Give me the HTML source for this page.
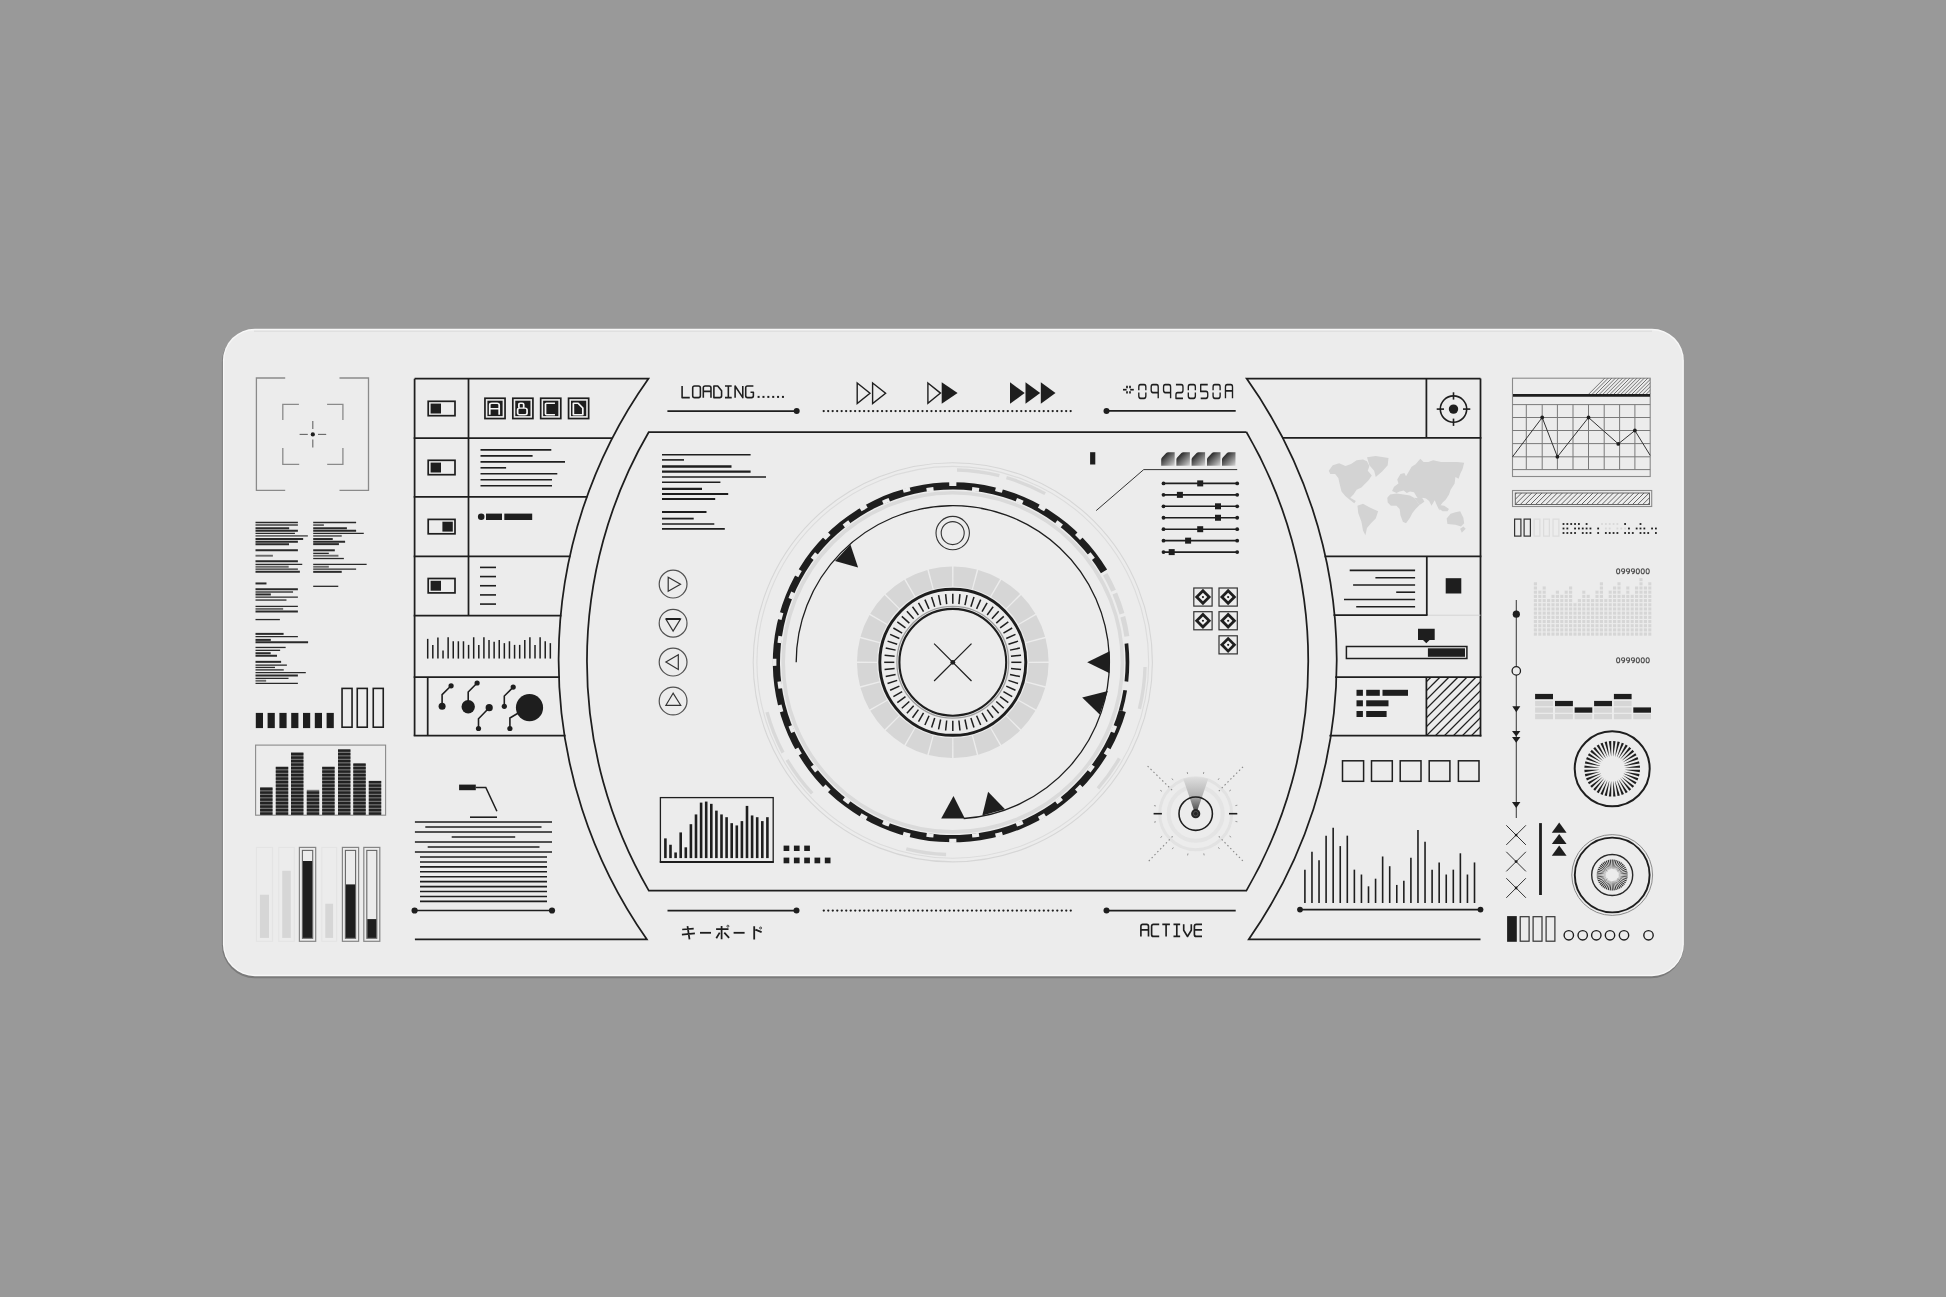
<!DOCTYPE html>
<html><head><meta charset="utf-8"><style>
html,body{margin:0;padding:0;background:#999999;width:1946px;height:1297px;overflow:hidden}
svg{display:block}
</style></head><body>
<svg width="1946" height="1297" viewBox="0 0 1946 1297">
<defs><filter id="nolcd" x="-50%" y="-50%" width="200%" height="200%"><feOffset dx="0" dy="0"/></filter>
<linearGradient id="tabg" x1="0" y1="0" x2="1" y2="1"><stop offset="0" stop-color="#111"/><stop offset="0.3" stop-color="#3a3a3a"/><stop offset="1" stop-color="#d6d6d6"/></linearGradient>
<linearGradient id="cone" x1="0" y1="0" x2="0" y2="1"><stop offset="0" stop-color="#dedede"/><stop offset="0.5" stop-color="#b4b4b4"/><stop offset="1" stop-color="#3a3a3a"/></linearGradient>
</defs>
<rect width="1946" height="1297" fill="#999999"/>
<rect x="221.9" y="329.6" width="1462" height="648.6" rx="33" fill="#7a7a7a"/>
<rect x="222.9" y="328.7" width="1461" height="647.5" rx="32" fill="#f7f7f7"/>
<rect x="224.2" y="330.2" width="1458.4" height="644.6" rx="30.6" fill="#ececec"/>
<path d="M254,331.2 H1652" stroke="#d9d9d9" stroke-width="0.9"/>
<path d="M414.6,378.7 H648.4 A486,486 0 0 0 646.8,939.3 H414.9" fill="none" stroke="#1e1e1e" stroke-width="1.75" />
<path d="M1246.4,432 H648.8 A456,456 0 0 0 648.8,890.6 H1246.4 A456,456 0 0 0 1246.4,432" fill="none" stroke="#1e1e1e" stroke-width="1.75" />
<path d="M1480.5,378.6 H1246.6 A486,486 0 0 1 1248.8,939.3 H1480.5" fill="none" stroke="#1e1e1e" stroke-width="1.75" />
<line x1="414.6" y1="378.7" x2="414.6" y2="735.7" stroke="#1e1e1e" stroke-width="1.75" />
<line x1="468.5" y1="378.7" x2="468.5" y2="615.5" stroke="#1e1e1e" stroke-width="1.75" />
<line x1="413.7" y1="438.1" x2="612.6" y2="438.1" stroke="#1e1e1e" stroke-width="1.75" />
<line x1="413.7" y1="496.9" x2="587.33" y2="496.9" stroke="#1e1e1e" stroke-width="1.75" />
<line x1="413.7" y1="556.3" x2="570.48" y2="556.3" stroke="#1e1e1e" stroke-width="1.75" />
<line x1="413.7" y1="615.5" x2="561.45" y2="615.5" stroke="#1e1e1e" stroke-width="1.75" />
<line x1="413.7" y1="677" x2="559.83" y2="677" stroke="#1e1e1e" stroke-width="1.75" />
<line x1="413.7" y1="735.7" x2="565.59" y2="735.7" stroke="#1e1e1e" stroke-width="1.75" />
<line x1="427.7" y1="677" x2="427.7" y2="735.7" stroke="#1e1e1e" stroke-width="1.75" />
<line x1="1480.5" y1="378.6" x2="1480.5" y2="736.6" stroke="#1e1e1e" stroke-width="1.75" />
<line x1="1426.4" y1="378.6" x2="1426.4" y2="437.8" stroke="#1e1e1e" stroke-width="1.75" />
<line x1="1282.24" y1="437.8" x2="1481.4" y2="437.8" stroke="#1e1e1e" stroke-width="1.75" />
<line x1="1324.52" y1="556.3" x2="1481.4" y2="556.3" stroke="#1e1e1e" stroke-width="1.75" />
<line x1="1426.8" y1="556.3" x2="1426.8" y2="615.2" stroke="#1e1e1e" stroke-width="1.75" />
<line x1="1333.52" y1="615.2" x2="1427.7" y2="615.2" stroke="#1e1e1e" stroke-width="1.75" />
<line x1="1427.7" y1="615.2" x2="1480.5" y2="615.2" stroke="#d4d4d4" stroke-width="1" />
<line x1="1335.17" y1="677" x2="1481.4" y2="677" stroke="#1e1e1e" stroke-width="1.75" />
<line x1="1426.4" y1="677" x2="1426.4" y2="735.7" stroke="#1e1e1e" stroke-width="1.75" />
<line x1="1329.41" y1="735.7" x2="1481.4" y2="735.7" stroke="#1e1e1e" stroke-width="1.75" />
<path d="M285.2,378 L256.4,378 L256.4,490.3 L285.2,490.3" fill="none" stroke="#8a8a8a" stroke-width="1.3" />
<path d="M339.5,378 L368.5,378 L368.5,490.3 L339.5,490.3" fill="none" stroke="#8a8a8a" stroke-width="1.3" />
<path d="M282.8,420 L282.8,404.3 L298.9,404.3" fill="none" stroke="#8a8a8a" stroke-width="1.3" />
<path d="M327.1,404.3 L342.9,404.3 L342.9,420" fill="none" stroke="#8a8a8a" stroke-width="1.3" />
<path d="M282.8,448 L282.8,464.4 L299.2,464.4" fill="none" stroke="#8a8a8a" stroke-width="1.3" />
<path d="M327.2,464.4 L342.9,464.4 L342.9,448" fill="none" stroke="#8a8a8a" stroke-width="1.3" />
<line x1="299.6" y1="434.4" x2="307.8" y2="434.4" stroke="#666" stroke-width="1.1" />
<line x1="318" y1="434.4" x2="326.2" y2="434.4" stroke="#666" stroke-width="1.1" />
<line x1="312.8" y1="421" x2="312.8" y2="429" stroke="#666" stroke-width="1.1" />
<line x1="312.8" y1="439.6" x2="312.8" y2="447.6" stroke="#666" stroke-width="1.1" />
<circle cx="312.8" cy="434.4" r="2.1" fill="#1e1e1e" />
<line x1="255.5" y1="522.5" x2="297.89" y2="522.5" stroke="#2a2a2a" stroke-width="1.3" />
<line x1="255.5" y1="525.05" x2="297.89" y2="525.05" stroke="#6a6a6a" stroke-width="1.9" />
<line x1="255.5" y1="528.26" x2="289.18" y2="528.26" stroke="#2a2a2a" stroke-width="2" />
<line x1="255.5" y1="530.72" x2="297.89" y2="530.72" stroke="#2a2a2a" stroke-width="2" />
<line x1="255.5" y1="533.44" x2="294.93" y2="533.44" stroke="#2a2a2a" stroke-width="1.3" />
<line x1="255.5" y1="535.9" x2="307.85" y2="535.9" stroke="#6a6a6a" stroke-width="1.9" />
<line x1="255.5" y1="539.03" x2="303.16" y2="539.03" stroke="#2a2a2a" stroke-width="2" />
<line x1="255.5" y1="541.66" x2="297.89" y2="541.66" stroke="#2a2a2a" stroke-width="2" />
<line x1="255.5" y1="544.13" x2="289.01" y2="544.13" stroke="#2a2a2a" stroke-width="2" />
<line x1="255.5" y1="550.3" x2="297.89" y2="550.3" stroke="#2a2a2a" stroke-width="2" />
<line x1="255.5" y1="555.72" x2="272.89" y2="555.72" stroke="#6a6a6a" stroke-width="1.9" />
<line x1="255.5" y1="561.15" x2="297.89" y2="561.15" stroke="#2a2a2a" stroke-width="2" />
<line x1="255.5" y1="564.28" x2="302.25" y2="564.28" stroke="#2a2a2a" stroke-width="1.3" />
<line x1="255.5" y1="566.74" x2="288.68" y2="566.74" stroke="#6a6a6a" stroke-width="1.9" />
<line x1="255.5" y1="569.21" x2="297.89" y2="569.21" stroke="#2a2a2a" stroke-width="1.3" />
<line x1="255.5" y1="571.84" x2="299.87" y2="571.84" stroke="#2a2a2a" stroke-width="2" />
<line x1="255.5" y1="583.44" x2="266.48" y2="583.44" stroke="#2a2a2a" stroke-width="2" />
<line x1="255.5" y1="589.36" x2="297.89" y2="589.36" stroke="#2a2a2a" stroke-width="2" />
<line x1="255.5" y1="591.99" x2="293.04" y2="591.99" stroke="#6a6a6a" stroke-width="1.9" />
<line x1="255.5" y1="594.46" x2="270.84" y2="594.46" stroke="#2a2a2a" stroke-width="2" />
<line x1="255.5" y1="597.17" x2="297.89" y2="597.17" stroke="#2a2a2a" stroke-width="1.3" />
<line x1="255.5" y1="600.05" x2="286.46" y2="600.05" stroke="#2a2a2a" stroke-width="1.3" />
<line x1="255.5" y1="606.41" x2="297.89" y2="606.41" stroke="#2a2a2a" stroke-width="1.3" />
<line x1="255.5" y1="608.88" x2="283.17" y2="608.88" stroke="#6a6a6a" stroke-width="1.9" />
<line x1="255.5" y1="611.51" x2="297.89" y2="611.51" stroke="#2a2a2a" stroke-width="2" />
<line x1="255.5" y1="619.57" x2="279.88" y2="619.57" stroke="#2a2a2a" stroke-width="1.3" />
<line x1="255.5" y1="633.88" x2="283.59" y2="633.88" stroke="#2a2a2a" stroke-width="2" />
<line x1="255.5" y1="636.6" x2="297.89" y2="636.6" stroke="#2a2a2a" stroke-width="1.3" />
<line x1="255.5" y1="639.88" x2="270.84" y2="639.88" stroke="#2a2a2a" stroke-width="2" />
<line x1="255.5" y1="642.35" x2="308.09" y2="642.35" stroke="#2a2a2a" stroke-width="2" />
<line x1="255.5" y1="647.45" x2="285.64" y2="647.45" stroke="#2a2a2a" stroke-width="1.3" />
<line x1="255.5" y1="650.33" x2="280.13" y2="650.33" stroke="#2a2a2a" stroke-width="1.3" />
<line x1="255.5" y1="653.21" x2="270.67" y2="653.21" stroke="#2a2a2a" stroke-width="2" />
<line x1="255.5" y1="655.76" x2="277.01" y2="655.76" stroke="#2a2a2a" stroke-width="2" />
<line x1="255.5" y1="661.84" x2="281.12" y2="661.84" stroke="#2a2a2a" stroke-width="2" />
<line x1="255.5" y1="665.13" x2="286.88" y2="665.13" stroke="#2a2a2a" stroke-width="1.3" />
<line x1="255.5" y1="667.43" x2="274.95" y2="667.43" stroke="#2a2a2a" stroke-width="1.3" />
<line x1="255.5" y1="669.9" x2="283.75" y2="669.9" stroke="#2a2a2a" stroke-width="1.3" />
<line x1="255.5" y1="672.53" x2="305.79" y2="672.53" stroke="#2a2a2a" stroke-width="1.3" />
<line x1="255.5" y1="675.49" x2="297.89" y2="675.49" stroke="#2a2a2a" stroke-width="2" />
<line x1="255.5" y1="678.29" x2="288.52" y2="678.29" stroke="#2a2a2a" stroke-width="1.3" />
<line x1="255.5" y1="680.76" x2="266.15" y2="680.76" stroke="#6a6a6a" stroke-width="1.9" />
<line x1="255.5" y1="683.47" x2="297.89" y2="683.47" stroke="#2a2a2a" stroke-width="1.3" />
<line x1="313.2" y1="522.5" x2="356.12" y2="522.5" stroke="#2a2a2a" stroke-width="1.3" />
<line x1="313.2" y1="525.05" x2="323.88" y2="525.05" stroke="#2a2a2a" stroke-width="1.3" />
<line x1="313.2" y1="528.26" x2="346.91" y2="528.26" stroke="#2a2a2a" stroke-width="2" />
<line x1="313.2" y1="530.72" x2="356.12" y2="530.72" stroke="#2a2a2a" stroke-width="2" />
<line x1="313.2" y1="533.44" x2="363.77" y2="533.44" stroke="#2a2a2a" stroke-width="1.3" />
<line x1="313.2" y1="535.9" x2="341.73" y2="535.9" stroke="#6a6a6a" stroke-width="1.9" />
<line x1="313.2" y1="539.03" x2="332.76" y2="539.03" stroke="#2a2a2a" stroke-width="2" />
<line x1="313.2" y1="541.66" x2="345.1" y2="541.66" stroke="#2a2a2a" stroke-width="2" />
<line x1="313.2" y1="544.13" x2="338.93" y2="544.13" stroke="#2a2a2a" stroke-width="2" />
<line x1="313.2" y1="550.3" x2="334.82" y2="550.3" stroke="#2a2a2a" stroke-width="2" />
<line x1="313.2" y1="553.34" x2="328.82" y2="553.34" stroke="#2a2a2a" stroke-width="1.3" />
<line x1="313.2" y1="555.72" x2="338.44" y2="555.72" stroke="#6a6a6a" stroke-width="1.9" />
<line x1="313.2" y1="558.52" x2="343.87" y2="558.52" stroke="#2a2a2a" stroke-width="1.3" />
<line x1="313.2" y1="564.28" x2="366.64" y2="564.28" stroke="#2a2a2a" stroke-width="1.3" />
<line x1="313.2" y1="566.74" x2="328.82" y2="566.74" stroke="#6a6a6a" stroke-width="1.9" />
<line x1="313.2" y1="569.21" x2="356.12" y2="569.21" stroke="#2a2a2a" stroke-width="1.3" />
<line x1="313.2" y1="571.84" x2="341.73" y2="571.84" stroke="#2a2a2a" stroke-width="2" />
<line x1="313.2" y1="586.32" x2="338.27" y2="586.32" stroke="#2a2a2a" stroke-width="1.3" />
<rect x="255.8" y="712.9" width="7.2" height="15.2" fill="#1e1e1e" />
<rect x="267.6" y="712.9" width="7.2" height="15.2" fill="#1e1e1e" />
<rect x="279.4" y="712.9" width="7.2" height="15.2" fill="#1e1e1e" />
<rect x="291.2" y="712.9" width="7.2" height="15.2" fill="#1e1e1e" />
<rect x="303" y="712.9" width="7.2" height="15.2" fill="#1e1e1e" />
<rect x="314.8" y="712.9" width="7.2" height="15.2" fill="#1e1e1e" />
<rect x="326.6" y="712.9" width="7.2" height="15.2" fill="#1e1e1e" />
<rect x="342.05" y="688.4" width="10" height="38.8" fill="none" stroke="#1e1e1e" stroke-width="1.6" />
<rect x="357.25" y="688.4" width="10" height="38.8" fill="none" stroke="#1e1e1e" stroke-width="1.6" />
<rect x="373.25" y="688.4" width="10" height="38.8" fill="none" stroke="#1e1e1e" stroke-width="1.6" />
<rect x="255.6" y="745.1" width="130" height="70.1" fill="none" stroke="#8a8a8a" stroke-width="1.1" />
<rect x="260.1" y="787" width="12.4" height="27.8" fill="#7a7a7a" />
<rect x="260.1" y="812.4" width="12.4" height="2.4" fill="#222" />
<rect x="260.1" y="808.9" width="12.4" height="2.4" fill="#222" />
<rect x="260.1" y="805.4" width="12.4" height="2.4" fill="#222" />
<rect x="260.1" y="801.9" width="12.4" height="2.4" fill="#222" />
<rect x="260.1" y="798.4" width="12.4" height="2.4" fill="#222" />
<rect x="260.1" y="794.9" width="12.4" height="2.4" fill="#222" />
<rect x="260.1" y="791.4" width="12.4" height="2.4" fill="#222" />
<rect x="260.1" y="787.9" width="12.4" height="2.4" fill="#222" />
<rect x="275.8" y="766.7" width="12.4" height="48.1" fill="#7a7a7a" />
<rect x="275.8" y="812.4" width="12.4" height="2.4" fill="#222" />
<rect x="275.8" y="808.9" width="12.4" height="2.4" fill="#222" />
<rect x="275.8" y="805.4" width="12.4" height="2.4" fill="#222" />
<rect x="275.8" y="801.9" width="12.4" height="2.4" fill="#222" />
<rect x="275.8" y="798.4" width="12.4" height="2.4" fill="#222" />
<rect x="275.8" y="794.9" width="12.4" height="2.4" fill="#222" />
<rect x="275.8" y="791.4" width="12.4" height="2.4" fill="#222" />
<rect x="275.8" y="787.9" width="12.4" height="2.4" fill="#222" />
<rect x="275.8" y="784.4" width="12.4" height="2.4" fill="#222" />
<rect x="275.8" y="780.9" width="12.4" height="2.4" fill="#222" />
<rect x="275.8" y="777.4" width="12.4" height="2.4" fill="#222" />
<rect x="275.8" y="773.9" width="12.4" height="2.4" fill="#222" />
<rect x="275.8" y="770.4" width="12.4" height="2.4" fill="#222" />
<rect x="275.8" y="766.9" width="12.4" height="2.4" fill="#222" />
<rect x="291" y="752.3" width="12.4" height="62.5" fill="#7a7a7a" />
<rect x="291" y="812.4" width="12.4" height="2.4" fill="#222" />
<rect x="291" y="808.9" width="12.4" height="2.4" fill="#222" />
<rect x="291" y="805.4" width="12.4" height="2.4" fill="#222" />
<rect x="291" y="801.9" width="12.4" height="2.4" fill="#222" />
<rect x="291" y="798.4" width="12.4" height="2.4" fill="#222" />
<rect x="291" y="794.9" width="12.4" height="2.4" fill="#222" />
<rect x="291" y="791.4" width="12.4" height="2.4" fill="#222" />
<rect x="291" y="787.9" width="12.4" height="2.4" fill="#222" />
<rect x="291" y="784.4" width="12.4" height="2.4" fill="#222" />
<rect x="291" y="780.9" width="12.4" height="2.4" fill="#222" />
<rect x="291" y="777.4" width="12.4" height="2.4" fill="#222" />
<rect x="291" y="773.9" width="12.4" height="2.4" fill="#222" />
<rect x="291" y="770.4" width="12.4" height="2.4" fill="#222" />
<rect x="291" y="766.9" width="12.4" height="2.4" fill="#222" />
<rect x="291" y="763.4" width="12.4" height="2.4" fill="#222" />
<rect x="291" y="759.9" width="12.4" height="2.4" fill="#222" />
<rect x="291" y="756.4" width="12.4" height="2.4" fill="#222" />
<rect x="291" y="752.9" width="12.4" height="2.4" fill="#222" />
<rect x="306.8" y="789.8" width="12.4" height="25" fill="#7a7a7a" />
<rect x="306.8" y="812.4" width="12.4" height="2.4" fill="#222" />
<rect x="306.8" y="808.9" width="12.4" height="2.4" fill="#222" />
<rect x="306.8" y="805.4" width="12.4" height="2.4" fill="#222" />
<rect x="306.8" y="801.9" width="12.4" height="2.4" fill="#222" />
<rect x="306.8" y="798.4" width="12.4" height="2.4" fill="#222" />
<rect x="306.8" y="794.9" width="12.4" height="2.4" fill="#222" />
<rect x="306.8" y="791.4" width="12.4" height="2.4" fill="#222" />
<rect x="322.2" y="766.7" width="12.4" height="48.1" fill="#7a7a7a" />
<rect x="322.2" y="812.4" width="12.4" height="2.4" fill="#222" />
<rect x="322.2" y="808.9" width="12.4" height="2.4" fill="#222" />
<rect x="322.2" y="805.4" width="12.4" height="2.4" fill="#222" />
<rect x="322.2" y="801.9" width="12.4" height="2.4" fill="#222" />
<rect x="322.2" y="798.4" width="12.4" height="2.4" fill="#222" />
<rect x="322.2" y="794.9" width="12.4" height="2.4" fill="#222" />
<rect x="322.2" y="791.4" width="12.4" height="2.4" fill="#222" />
<rect x="322.2" y="787.9" width="12.4" height="2.4" fill="#222" />
<rect x="322.2" y="784.4" width="12.4" height="2.4" fill="#222" />
<rect x="322.2" y="780.9" width="12.4" height="2.4" fill="#222" />
<rect x="322.2" y="777.4" width="12.4" height="2.4" fill="#222" />
<rect x="322.2" y="773.9" width="12.4" height="2.4" fill="#222" />
<rect x="322.2" y="770.4" width="12.4" height="2.4" fill="#222" />
<rect x="322.2" y="766.9" width="12.4" height="2.4" fill="#222" />
<rect x="338" y="749.5" width="12.4" height="65.3" fill="#7a7a7a" />
<rect x="338" y="812.4" width="12.4" height="2.4" fill="#222" />
<rect x="338" y="808.9" width="12.4" height="2.4" fill="#222" />
<rect x="338" y="805.4" width="12.4" height="2.4" fill="#222" />
<rect x="338" y="801.9" width="12.4" height="2.4" fill="#222" />
<rect x="338" y="798.4" width="12.4" height="2.4" fill="#222" />
<rect x="338" y="794.9" width="12.4" height="2.4" fill="#222" />
<rect x="338" y="791.4" width="12.4" height="2.4" fill="#222" />
<rect x="338" y="787.9" width="12.4" height="2.4" fill="#222" />
<rect x="338" y="784.4" width="12.4" height="2.4" fill="#222" />
<rect x="338" y="780.9" width="12.4" height="2.4" fill="#222" />
<rect x="338" y="777.4" width="12.4" height="2.4" fill="#222" />
<rect x="338" y="773.9" width="12.4" height="2.4" fill="#222" />
<rect x="338" y="770.4" width="12.4" height="2.4" fill="#222" />
<rect x="338" y="766.9" width="12.4" height="2.4" fill="#222" />
<rect x="338" y="763.4" width="12.4" height="2.4" fill="#222" />
<rect x="338" y="759.9" width="12.4" height="2.4" fill="#222" />
<rect x="338" y="756.4" width="12.4" height="2.4" fill="#222" />
<rect x="338" y="752.9" width="12.4" height="2.4" fill="#222" />
<rect x="338" y="749.4" width="12.4" height="2.4" fill="#222" />
<rect x="353.3" y="763.8" width="12.4" height="51" fill="#7a7a7a" />
<rect x="353.3" y="812.4" width="12.4" height="2.4" fill="#222" />
<rect x="353.3" y="808.9" width="12.4" height="2.4" fill="#222" />
<rect x="353.3" y="805.4" width="12.4" height="2.4" fill="#222" />
<rect x="353.3" y="801.9" width="12.4" height="2.4" fill="#222" />
<rect x="353.3" y="798.4" width="12.4" height="2.4" fill="#222" />
<rect x="353.3" y="794.9" width="12.4" height="2.4" fill="#222" />
<rect x="353.3" y="791.4" width="12.4" height="2.4" fill="#222" />
<rect x="353.3" y="787.9" width="12.4" height="2.4" fill="#222" />
<rect x="353.3" y="784.4" width="12.4" height="2.4" fill="#222" />
<rect x="353.3" y="780.9" width="12.4" height="2.4" fill="#222" />
<rect x="353.3" y="777.4" width="12.4" height="2.4" fill="#222" />
<rect x="353.3" y="773.9" width="12.4" height="2.4" fill="#222" />
<rect x="353.3" y="770.4" width="12.4" height="2.4" fill="#222" />
<rect x="353.3" y="766.9" width="12.4" height="2.4" fill="#222" />
<rect x="353.3" y="763.4" width="12.4" height="2.4" fill="#222" />
<rect x="368.8" y="781.1" width="12.4" height="33.7" fill="#7a7a7a" />
<rect x="368.8" y="812.4" width="12.4" height="2.4" fill="#222" />
<rect x="368.8" y="808.9" width="12.4" height="2.4" fill="#222" />
<rect x="368.8" y="805.4" width="12.4" height="2.4" fill="#222" />
<rect x="368.8" y="801.9" width="12.4" height="2.4" fill="#222" />
<rect x="368.8" y="798.4" width="12.4" height="2.4" fill="#222" />
<rect x="368.8" y="794.9" width="12.4" height="2.4" fill="#222" />
<rect x="368.8" y="791.4" width="12.4" height="2.4" fill="#222" />
<rect x="368.8" y="787.9" width="12.4" height="2.4" fill="#222" />
<rect x="368.8" y="784.4" width="12.4" height="2.4" fill="#222" />
<rect x="368.8" y="780.9" width="12.4" height="2.4" fill="#222" />
<rect x="256.4" y="847.4" width="16.1" height="93.9" fill="none" stroke="#e4e4e4" stroke-width="1.1" />
<rect x="259.9" y="894.7" width="9.1" height="43.2" fill="#d6d6d6" />
<rect x="278.7" y="847.4" width="15.6" height="93.9" fill="none" stroke="#e4e4e4" stroke-width="1.1" />
<rect x="282.2" y="870.8" width="8.6" height="67.1" fill="#d6d6d6" />
<rect x="299.4" y="847.4" width="16.3" height="93.9" fill="none" stroke="#858585" stroke-width="1.2" />
<rect x="302.4" y="850.4" width="10.3" height="87.9" fill="none" stroke="#666" stroke-width="1.1" />
<rect x="302.9" y="861" width="9.3" height="76.9" fill="#1e1e1e" />
<rect x="321.8" y="847.4" width="14.8" height="93.9" fill="none" stroke="#e4e4e4" stroke-width="1.1" />
<rect x="325.3" y="903.7" width="7.8" height="34.2" fill="#d6d6d6" />
<rect x="342.4" y="847.4" width="16.2" height="93.9" fill="none" stroke="#858585" stroke-width="1.2" />
<rect x="345.4" y="850.4" width="10.2" height="87.9" fill="none" stroke="#666" stroke-width="1.1" />
<rect x="345.9" y="884.4" width="9.2" height="53.5" fill="#1e1e1e" />
<rect x="363.8" y="847.4" width="16" height="93.9" fill="none" stroke="#858585" stroke-width="1.2" />
<rect x="366.8" y="850.4" width="10" height="87.9" fill="none" stroke="#666" stroke-width="1.1" />
<rect x="367.3" y="919.1" width="9" height="18.8" fill="#1e1e1e" />
<rect x="428.2" y="401.3" width="26.8" height="14.4" fill="none" stroke="#1e1e1e" stroke-width="1.7" />
<rect x="430.6" y="403.6" width="10.4" height="9.9" fill="#1e1e1e" />
<rect x="428.2" y="460.3" width="26.8" height="14.4" fill="none" stroke="#1e1e1e" stroke-width="1.7" />
<rect x="430.6" y="462.6" width="10.4" height="9.9" fill="#1e1e1e" />
<rect x="428.2" y="519.4" width="26.8" height="14.4" fill="none" stroke="#1e1e1e" stroke-width="1.7" />
<rect x="442.4" y="521.7" width="10.4" height="9.9" fill="#1e1e1e" />
<rect x="428.2" y="578.5" width="26.8" height="14.4" fill="none" stroke="#1e1e1e" stroke-width="1.7" />
<rect x="430.6" y="580.8" width="10.4" height="9.9" fill="#1e1e1e" />
<rect x="484.95" y="398.25" width="20.1" height="20.3" fill="none" stroke="#1e1e1e" stroke-width="1.7" />
<rect x="487.4" y="400.7" width="15.2" height="15.4" fill="#1e1e1e" />
<rect x="512.82" y="398.25" width="20.1" height="20.3" fill="none" stroke="#1e1e1e" stroke-width="1.7" />
<rect x="515.27" y="400.7" width="15.2" height="15.4" fill="#1e1e1e" />
<rect x="540.69" y="398.25" width="20.1" height="20.3" fill="none" stroke="#1e1e1e" stroke-width="1.7" />
<rect x="543.14" y="400.7" width="15.2" height="15.4" fill="#1e1e1e" />
<rect x="568.56" y="398.25" width="20.1" height="20.3" fill="none" stroke="#1e1e1e" stroke-width="1.7" />
<rect x="571.01" y="400.7" width="15.2" height="15.4" fill="#1e1e1e" />
<path d="M1,14 V3 Q1,1 3,1 H8 Q10,1 10,3 V14 M1,7.2 H10" fill="none" stroke="#f6f6f6" stroke-width="1.65" transform="translate(488.7,402.3) scale(1.05,0.885)" stroke-linejoin="round"/>
<path d="M3.6,1 H5.4 Q6.8,1 6.8,2.4 V5.2 Q6.8,6.6 5.4,6.6 H3.6 Q2.2,6.6 2.2,5.2 V2.4 Q2.2,1 3.6,1 Z M3,6.6 H8 Q10,6.6 10,8.6 V12 Q10,14 8,14 H3 Q1,14 1,12 V8.6 Q1,6.6 3,6.6 Z" fill="none" stroke="#f6f6f6" stroke-width="1.65" transform="translate(516.57,402.3) scale(1.05,0.885)" stroke-linejoin="round"/>
<path d="M10,1 H2 Q1,1 1,2 V13 Q1,14 2,14 H10" fill="none" stroke="#f6f6f6" stroke-width="1.65" transform="translate(544.44,402.3) scale(1.05,0.885)" stroke-linejoin="round"/>
<path d="M1,1 V14 H10 V6.5 L5.5,1 Z" fill="none" stroke="#f6f6f6" stroke-width="1.65" transform="translate(572.31,402.3) scale(1.05,0.885)" stroke-linejoin="round"/>
<line x1="480.5" y1="449.9" x2="551.3" y2="449.9" stroke="#1e1e1e" stroke-width="1.6" />
<line x1="480.5" y1="455.87" x2="532.6" y2="455.87" stroke="#1e1e1e" stroke-width="1.6" />
<line x1="480.5" y1="461.84" x2="565" y2="461.84" stroke="#1e1e1e" stroke-width="1.6" />
<line x1="480.5" y1="467.81" x2="506.1" y2="467.81" stroke="#1e1e1e" stroke-width="1.6" />
<line x1="480.5" y1="473.78" x2="557.3" y2="473.78" stroke="#1e1e1e" stroke-width="1.6" />
<line x1="480.5" y1="479.75" x2="552" y2="479.75" stroke="#1e1e1e" stroke-width="1.6" />
<line x1="480.5" y1="485.72" x2="552" y2="485.72" stroke="#1e1e1e" stroke-width="1.6" />
<circle cx="481.2" cy="516.7" r="3.3" fill="#1e1e1e" />
<rect x="486" y="513.6" width="16" height="6.4" fill="#1e1e1e" />
<rect x="504.3" y="513.6" width="27.9" height="6.4" fill="#1e1e1e" />
<line x1="480" y1="567.4" x2="496" y2="567.4" stroke="#1e1e1e" stroke-width="1.6" />
<line x1="480" y1="576.57" x2="496" y2="576.57" stroke="#1e1e1e" stroke-width="1.6" />
<line x1="480" y1="585.74" x2="496" y2="585.74" stroke="#1e1e1e" stroke-width="1.6" />
<line x1="480" y1="594.91" x2="496" y2="594.91" stroke="#1e1e1e" stroke-width="1.6" />
<line x1="480" y1="604.08" x2="496" y2="604.08" stroke="#1e1e1e" stroke-width="1.6" />
<line x1="427.7" y1="638.86" x2="427.7" y2="658.6" stroke="#1e1e1e" stroke-width="1.5" />
<line x1="432.81" y1="644.88" x2="432.81" y2="658.6" stroke="#1e1e1e" stroke-width="1.5" />
<line x1="437.92" y1="637.53" x2="437.92" y2="658.6" stroke="#1e1e1e" stroke-width="1.5" />
<line x1="443.03" y1="650.62" x2="443.03" y2="658.6" stroke="#1e1e1e" stroke-width="1.5" />
<line x1="448.14" y1="637.26" x2="448.14" y2="658.6" stroke="#1e1e1e" stroke-width="1.5" />
<line x1="453.25" y1="641.27" x2="453.25" y2="658.6" stroke="#1e1e1e" stroke-width="1.5" />
<line x1="458.36" y1="641.27" x2="458.36" y2="658.6" stroke="#1e1e1e" stroke-width="1.5" />
<line x1="463.47" y1="641.27" x2="463.47" y2="658.6" stroke="#1e1e1e" stroke-width="1.5" />
<line x1="468.58" y1="644.88" x2="468.58" y2="658.6" stroke="#1e1e1e" stroke-width="1.5" />
<line x1="473.69" y1="637.26" x2="473.69" y2="658.6" stroke="#1e1e1e" stroke-width="1.5" />
<line x1="478.8" y1="644.88" x2="478.8" y2="658.6" stroke="#1e1e1e" stroke-width="1.5" />
<line x1="483.91" y1="637.26" x2="483.91" y2="658.6" stroke="#1e1e1e" stroke-width="1.5" />
<line x1="489.02" y1="639.93" x2="489.02" y2="658.6" stroke="#1e1e1e" stroke-width="1.5" />
<line x1="494.13" y1="641.8" x2="494.13" y2="658.6" stroke="#1e1e1e" stroke-width="1.5" />
<line x1="499.24" y1="639.93" x2="499.24" y2="658.6" stroke="#1e1e1e" stroke-width="1.5" />
<line x1="504.35" y1="643.14" x2="504.35" y2="658.6" stroke="#1e1e1e" stroke-width="1.5" />
<line x1="509.46" y1="641.27" x2="509.46" y2="658.6" stroke="#1e1e1e" stroke-width="1.5" />
<line x1="514.57" y1="644.88" x2="514.57" y2="658.6" stroke="#1e1e1e" stroke-width="1.5" />
<line x1="519.68" y1="644.88" x2="519.68" y2="658.6" stroke="#1e1e1e" stroke-width="1.5" />
<line x1="524.79" y1="639.93" x2="524.79" y2="658.6" stroke="#1e1e1e" stroke-width="1.5" />
<line x1="529.9" y1="637.26" x2="529.9" y2="658.6" stroke="#1e1e1e" stroke-width="1.5" />
<line x1="535.01" y1="644.88" x2="535.01" y2="658.6" stroke="#1e1e1e" stroke-width="1.5" />
<line x1="540.12" y1="637.26" x2="540.12" y2="658.6" stroke="#1e1e1e" stroke-width="1.5" />
<line x1="545.23" y1="641.27" x2="545.23" y2="658.6" stroke="#1e1e1e" stroke-width="1.5" />
<line x1="550.34" y1="643.14" x2="550.34" y2="658.6" stroke="#1e1e1e" stroke-width="1.5" />
<path d="M442.1,706.3 L442.1,694.7 L451.1,685.8" fill="none" stroke="#1e1e1e" stroke-width="1.6" />
<circle cx="442.1" cy="706.3" r="3.5" fill="#1e1e1e" />
<circle cx="451.1" cy="685.8" r="2.6" fill="#1e1e1e" />
<path d="M468.2,706.7 L468.2,692 L477.1,683" fill="none" stroke="#1e1e1e" stroke-width="1.6" />
<circle cx="468.2" cy="706.7" r="6.7" fill="#1e1e1e" />
<circle cx="477.1" cy="683" r="2.6" fill="#1e1e1e" />
<path d="M489.2,707.7 L478.5,718.8 L478.5,728.5" fill="none" stroke="#1e1e1e" stroke-width="1.6" />
<circle cx="489.2" cy="707.7" r="3.6" fill="#1e1e1e" />
<circle cx="478.5" cy="728.5" r="2.6" fill="#1e1e1e" />
<path d="M504.3,706.3 L504.3,696 L513.2,687.1" fill="none" stroke="#1e1e1e" stroke-width="1.6" />
<circle cx="504.3" cy="706.3" r="2.6" fill="#1e1e1e" />
<circle cx="513.2" cy="687.1" r="2.6" fill="#1e1e1e" />
<path d="M520,712 L509.9,718 L509.9,728.5" fill="none" stroke="#1e1e1e" stroke-width="1.6" />
<circle cx="529.5" cy="707.7" r="13.6" fill="#1e1e1e" />
<circle cx="509.9" cy="728.5" r="2.6" fill="#1e1e1e" />
<rect x="459.1" y="784.6" width="16.7" height="5.6" fill="#1e1e1e" />
<path d="M475.8,787.4 L485.8,787.4 L496.9,811.3" fill="none" stroke="#1e1e1e" stroke-width="1.5" />
<line x1="470" y1="817.2" x2="497" y2="817.2" stroke="#1e1e1e" stroke-width="1.6" />
<line x1="414.9" y1="822" x2="552" y2="822" stroke="#1e1e1e" stroke-width="1.6" />
<line x1="425.3" y1="827" x2="541.5" y2="827" stroke="#1e1e1e" stroke-width="1.6" />
<line x1="414.9" y1="832" x2="552" y2="832" stroke="#1e1e1e" stroke-width="1.6" />
<line x1="451.7" y1="837" x2="515.2" y2="837" stroke="#1e1e1e" stroke-width="1.6" />
<line x1="414.9" y1="842" x2="552" y2="842" stroke="#1e1e1e" stroke-width="1.6" />
<line x1="427.7" y1="847" x2="539.5" y2="847" stroke="#1e1e1e" stroke-width="1.6" />
<line x1="414.9" y1="852" x2="552" y2="852" stroke="#1e1e1e" stroke-width="1.6" />
<line x1="420" y1="857" x2="547" y2="857" stroke="#1e1e1e" stroke-width="1.6" />
<line x1="420" y1="861.93" x2="547" y2="861.93" stroke="#1e1e1e" stroke-width="1.6" />
<line x1="420" y1="866.86" x2="547" y2="866.86" stroke="#1e1e1e" stroke-width="1.6" />
<line x1="420" y1="871.79" x2="547" y2="871.79" stroke="#1e1e1e" stroke-width="1.6" />
<line x1="420" y1="876.72" x2="547" y2="876.72" stroke="#1e1e1e" stroke-width="1.6" />
<line x1="420" y1="881.65" x2="547" y2="881.65" stroke="#1e1e1e" stroke-width="1.6" />
<line x1="420" y1="886.58" x2="547" y2="886.58" stroke="#1e1e1e" stroke-width="1.6" />
<line x1="420" y1="891.51" x2="547" y2="891.51" stroke="#1e1e1e" stroke-width="1.6" />
<line x1="420" y1="896.44" x2="547" y2="896.44" stroke="#1e1e1e" stroke-width="1.6" />
<line x1="420" y1="901.37" x2="547" y2="901.37" stroke="#1e1e1e" stroke-width="1.6" />
<line x1="414.6" y1="910.5" x2="552" y2="910.5" stroke="#1e1e1e" stroke-width="1.7" />
<circle cx="414.6" cy="910.5" r="3.1" fill="#1e1e1e" />
<circle cx="552" cy="910.5" r="3.1" fill="#1e1e1e" />
<path d="M0,0 V12 H8" fill="none" stroke="#1e1e1e" stroke-width="1.64" transform="translate(682.1,386) scale(0.96,0.97)" stroke-linejoin="round"/>
<path d="M2,0 H6 Q8,0 8,2 V10 Q8,12 6,12 H2 Q0,12 0,10 V2 Q0,0 2,0Z" fill="none" stroke="#1e1e1e" stroke-width="1.64" transform="translate(692.7,386) scale(0.96,0.97)" stroke-linejoin="round"/>
<path d="M0,12 V2 Q0,0 2,0 H6 Q8,0 8,2 V12 M0,5.5 H8" fill="none" stroke="#1e1e1e" stroke-width="1.64" transform="translate(703.3,386) scale(0.96,0.97)" stroke-linejoin="round"/>
<path d="M0,0 V12 H6 Q8,12 8,10 V5 L4,0 Z" fill="none" stroke="#1e1e1e" stroke-width="1.64" transform="translate(713.9,386) scale(0.96,0.97)" stroke-linejoin="round"/>
<path d="M0.5,0 H7.5 M4,0 V12 M0.5,12 H7.5" fill="none" stroke="#1e1e1e" stroke-width="1.64" transform="translate(724.5,386) scale(0.96,0.97)" stroke-linejoin="round"/>
<path d="M0,12 V0 L8,12 V0" fill="none" stroke="#1e1e1e" stroke-width="1.64" transform="translate(735.1,386) scale(0.96,0.97)" stroke-linejoin="round"/>
<path d="M8,0 H2 Q0,0 0,2 V10 Q0,12 2,12 H6 Q8,12 8,10 V6.5 H5" fill="none" stroke="#1e1e1e" stroke-width="1.64" transform="translate(745.7,386) scale(0.96,0.97)" stroke-linejoin="round"/>
<rect x="757.6" y="395.9" width="2" height="2" fill="#1e1e1e" />
<rect x="762.47" y="395.9" width="2" height="2" fill="#1e1e1e" />
<rect x="767.34" y="395.9" width="2" height="2" fill="#1e1e1e" />
<rect x="772.21" y="395.9" width="2" height="2" fill="#1e1e1e" />
<rect x="777.08" y="395.9" width="2" height="2" fill="#1e1e1e" />
<rect x="781.95" y="395.9" width="2" height="2" fill="#1e1e1e" />
<line x1="667.4" y1="411.1" x2="796.7" y2="411.1" stroke="#1e1e1e" stroke-width="1.9" />
<circle cx="796.7" cy="411.1" r="3" fill="#1e1e1e" />
<circle cx="823.7" cy="411.1" r="1.15" fill="#1e1e1e" />
<circle cx="828.19" cy="411.1" r="1.15" fill="#1e1e1e" />
<circle cx="832.68" cy="411.1" r="1.15" fill="#1e1e1e" />
<circle cx="837.17" cy="411.1" r="1.15" fill="#1e1e1e" />
<circle cx="841.66" cy="411.1" r="1.15" fill="#1e1e1e" />
<circle cx="846.15" cy="411.1" r="1.15" fill="#1e1e1e" />
<circle cx="850.64" cy="411.1" r="1.15" fill="#1e1e1e" />
<circle cx="855.13" cy="411.1" r="1.15" fill="#1e1e1e" />
<circle cx="859.62" cy="411.1" r="1.15" fill="#1e1e1e" />
<circle cx="864.11" cy="411.1" r="1.15" fill="#1e1e1e" />
<circle cx="868.6" cy="411.1" r="1.15" fill="#1e1e1e" />
<circle cx="873.09" cy="411.1" r="1.15" fill="#1e1e1e" />
<circle cx="877.58" cy="411.1" r="1.15" fill="#1e1e1e" />
<circle cx="882.07" cy="411.1" r="1.15" fill="#1e1e1e" />
<circle cx="886.56" cy="411.1" r="1.15" fill="#1e1e1e" />
<circle cx="891.05" cy="411.1" r="1.15" fill="#1e1e1e" />
<circle cx="895.54" cy="411.1" r="1.15" fill="#1e1e1e" />
<circle cx="900.03" cy="411.1" r="1.15" fill="#1e1e1e" />
<circle cx="904.52" cy="411.1" r="1.15" fill="#1e1e1e" />
<circle cx="909.01" cy="411.1" r="1.15" fill="#1e1e1e" />
<circle cx="913.5" cy="411.1" r="1.15" fill="#1e1e1e" />
<circle cx="917.99" cy="411.1" r="1.15" fill="#1e1e1e" />
<circle cx="922.48" cy="411.1" r="1.15" fill="#1e1e1e" />
<circle cx="926.97" cy="411.1" r="1.15" fill="#1e1e1e" />
<circle cx="931.46" cy="411.1" r="1.15" fill="#1e1e1e" />
<circle cx="935.95" cy="411.1" r="1.15" fill="#1e1e1e" />
<circle cx="940.44" cy="411.1" r="1.15" fill="#1e1e1e" />
<circle cx="944.93" cy="411.1" r="1.15" fill="#1e1e1e" />
<circle cx="949.42" cy="411.1" r="1.15" fill="#1e1e1e" />
<circle cx="953.91" cy="411.1" r="1.15" fill="#1e1e1e" />
<circle cx="958.4" cy="411.1" r="1.15" fill="#1e1e1e" />
<circle cx="962.89" cy="411.1" r="1.15" fill="#1e1e1e" />
<circle cx="967.38" cy="411.1" r="1.15" fill="#1e1e1e" />
<circle cx="971.87" cy="411.1" r="1.15" fill="#1e1e1e" />
<circle cx="976.36" cy="411.1" r="1.15" fill="#1e1e1e" />
<circle cx="980.85" cy="411.1" r="1.15" fill="#1e1e1e" />
<circle cx="985.34" cy="411.1" r="1.15" fill="#1e1e1e" />
<circle cx="989.83" cy="411.1" r="1.15" fill="#1e1e1e" />
<circle cx="994.32" cy="411.1" r="1.15" fill="#1e1e1e" />
<circle cx="998.81" cy="411.1" r="1.15" fill="#1e1e1e" />
<circle cx="1003.3" cy="411.1" r="1.15" fill="#1e1e1e" />
<circle cx="1007.79" cy="411.1" r="1.15" fill="#1e1e1e" />
<circle cx="1012.28" cy="411.1" r="1.15" fill="#1e1e1e" />
<circle cx="1016.77" cy="411.1" r="1.15" fill="#1e1e1e" />
<circle cx="1021.26" cy="411.1" r="1.15" fill="#1e1e1e" />
<circle cx="1025.75" cy="411.1" r="1.15" fill="#1e1e1e" />
<circle cx="1030.24" cy="411.1" r="1.15" fill="#1e1e1e" />
<circle cx="1034.73" cy="411.1" r="1.15" fill="#1e1e1e" />
<circle cx="1039.22" cy="411.1" r="1.15" fill="#1e1e1e" />
<circle cx="1043.71" cy="411.1" r="1.15" fill="#1e1e1e" />
<circle cx="1048.2" cy="411.1" r="1.15" fill="#1e1e1e" />
<circle cx="1052.69" cy="411.1" r="1.15" fill="#1e1e1e" />
<circle cx="1057.18" cy="411.1" r="1.15" fill="#1e1e1e" />
<circle cx="1061.67" cy="411.1" r="1.15" fill="#1e1e1e" />
<circle cx="1066.16" cy="411.1" r="1.15" fill="#1e1e1e" />
<circle cx="1070.65" cy="411.1" r="1.15" fill="#1e1e1e" />
<path d="M857.2,383 L870,393.2 L857.2,403.6Z" fill="none" stroke="#1e1e1e" stroke-width="1.4" />
<path d="M872.6,383 L885.6,393.2 L872.6,403.6Z" fill="none" stroke="#1e1e1e" stroke-width="1.4" />
<path d="M927.9,383 L940.5,393.1 L927.9,403.3Z" fill="none" stroke="#1e1e1e" stroke-width="1.4" />
<path d="M941.7,382.3 L957.6,393.1 L941.7,403.8Z" fill="#1e1e1e" />
<path d="M1010,382.3 L1024.7,393.1 L1010,403.8Z" fill="#1e1e1e" />
<path d="M1025.5,382.3 L1040.2,393.1 L1025.5,403.8Z" fill="#1e1e1e" />
<path d="M1040.8,382.3 L1055.5,393.1 L1040.8,403.8Z" fill="#1e1e1e" />
<line x1="1123" y1="389.7" x2="1126.6" y2="389.7" stroke="#1e1e1e" stroke-width="1.7" />
<line x1="1130.2" y1="389.7" x2="1133.8" y2="389.7" stroke="#1e1e1e" stroke-width="1.7" />
<line x1="1127" y1="385.8" x2="1127" y2="388.2" stroke="#1e1e1e" stroke-width="1.7" />
<line x1="1130" y1="385.8" x2="1130" y2="388.2" stroke="#1e1e1e" stroke-width="1.7" />
<line x1="1127" y1="391.2" x2="1127" y2="393.6" stroke="#1e1e1e" stroke-width="1.7" />
<line x1="1130" y1="391.2" x2="1130" y2="393.6" stroke="#1e1e1e" stroke-width="1.7" />
<path d="M2,0 H6 Q8,0 8,2 V5 M8,7 V10 Q8,12 6,12 H2 Q0,12 0,10 V7 M0,5 V2 Q0,0 2,0" fill="none" stroke="#1e1e1e" stroke-width="1.54" transform="translate(1138.8,384.7) scale(0.88,1.13)" stroke-linejoin="round"/>
<path d="M8,12 V2 Q8,0 6,0 H2 Q0,0 0,2 V5 Q0,7 2,7 H8" fill="none" stroke="#1e1e1e" stroke-width="1.54" transform="translate(1151.18,384.7) scale(0.88,1.13)" stroke-linejoin="round"/>
<path d="M8,12 V2 Q8,0 6,0 H2 Q0,0 0,2 V5 Q0,7 2,7 H8" fill="none" stroke="#1e1e1e" stroke-width="1.54" transform="translate(1163.56,384.7) scale(0.88,1.13)" stroke-linejoin="round"/>
<path d="M0,0 H6 Q8,0 8,2 V5 Q8,7 6,7 H2 Q0,7 0,9 V12 H8" fill="none" stroke="#1e1e1e" stroke-width="1.54" transform="translate(1175.94,384.7) scale(0.88,1.13)" stroke-linejoin="round"/>
<path d="M2,0 H6 Q8,0 8,2 V5 M8,7 V10 Q8,12 6,12 H2 Q0,12 0,10 V7 M0,5 V2 Q0,0 2,0" fill="none" stroke="#1e1e1e" stroke-width="1.54" transform="translate(1188.32,384.7) scale(0.88,1.13)" stroke-linejoin="round"/>
<path d="M8,0 H0 V6 H6 Q8,6 8,8 V10 Q8,12 6,12 H0" fill="none" stroke="#1e1e1e" stroke-width="1.54" transform="translate(1200.7,384.7) scale(0.88,1.13)" stroke-linejoin="round"/>
<path d="M2,0 H6 Q8,0 8,2 V5 M8,7 V10 Q8,12 6,12 H2 Q0,12 0,10 V7 M0,5 V2 Q0,0 2,0" fill="none" stroke="#1e1e1e" stroke-width="1.54" transform="translate(1213.08,384.7) scale(0.88,1.13)" stroke-linejoin="round"/>
<path d="M0,12 V2 Q0,0 2,0 H6 Q8,0 8,2 V12 M0,5.5 H8" fill="none" stroke="#1e1e1e" stroke-width="1.54" transform="translate(1225.46,384.7) scale(0.88,1.13)" stroke-linejoin="round"/>
<line x1="1106.5" y1="410.9" x2="1235.7" y2="410.9" stroke="#1e1e1e" stroke-width="1.9" />
<circle cx="1106.5" cy="410.9" r="3" fill="#1e1e1e" />
<line x1="667.5" y1="910.6" x2="796.5" y2="910.6" stroke="#1e1e1e" stroke-width="1.9" />
<circle cx="796.5" cy="910.6" r="3" fill="#1e1e1e" />
<circle cx="823.8" cy="910.6" r="1.15" fill="#1e1e1e" />
<circle cx="828.29" cy="910.6" r="1.15" fill="#1e1e1e" />
<circle cx="832.78" cy="910.6" r="1.15" fill="#1e1e1e" />
<circle cx="837.27" cy="910.6" r="1.15" fill="#1e1e1e" />
<circle cx="841.76" cy="910.6" r="1.15" fill="#1e1e1e" />
<circle cx="846.25" cy="910.6" r="1.15" fill="#1e1e1e" />
<circle cx="850.74" cy="910.6" r="1.15" fill="#1e1e1e" />
<circle cx="855.23" cy="910.6" r="1.15" fill="#1e1e1e" />
<circle cx="859.72" cy="910.6" r="1.15" fill="#1e1e1e" />
<circle cx="864.21" cy="910.6" r="1.15" fill="#1e1e1e" />
<circle cx="868.7" cy="910.6" r="1.15" fill="#1e1e1e" />
<circle cx="873.19" cy="910.6" r="1.15" fill="#1e1e1e" />
<circle cx="877.68" cy="910.6" r="1.15" fill="#1e1e1e" />
<circle cx="882.17" cy="910.6" r="1.15" fill="#1e1e1e" />
<circle cx="886.66" cy="910.6" r="1.15" fill="#1e1e1e" />
<circle cx="891.15" cy="910.6" r="1.15" fill="#1e1e1e" />
<circle cx="895.64" cy="910.6" r="1.15" fill="#1e1e1e" />
<circle cx="900.13" cy="910.6" r="1.15" fill="#1e1e1e" />
<circle cx="904.62" cy="910.6" r="1.15" fill="#1e1e1e" />
<circle cx="909.11" cy="910.6" r="1.15" fill="#1e1e1e" />
<circle cx="913.6" cy="910.6" r="1.15" fill="#1e1e1e" />
<circle cx="918.09" cy="910.6" r="1.15" fill="#1e1e1e" />
<circle cx="922.58" cy="910.6" r="1.15" fill="#1e1e1e" />
<circle cx="927.07" cy="910.6" r="1.15" fill="#1e1e1e" />
<circle cx="931.56" cy="910.6" r="1.15" fill="#1e1e1e" />
<circle cx="936.05" cy="910.6" r="1.15" fill="#1e1e1e" />
<circle cx="940.54" cy="910.6" r="1.15" fill="#1e1e1e" />
<circle cx="945.03" cy="910.6" r="1.15" fill="#1e1e1e" />
<circle cx="949.52" cy="910.6" r="1.15" fill="#1e1e1e" />
<circle cx="954.01" cy="910.6" r="1.15" fill="#1e1e1e" />
<circle cx="958.5" cy="910.6" r="1.15" fill="#1e1e1e" />
<circle cx="962.99" cy="910.6" r="1.15" fill="#1e1e1e" />
<circle cx="967.48" cy="910.6" r="1.15" fill="#1e1e1e" />
<circle cx="971.97" cy="910.6" r="1.15" fill="#1e1e1e" />
<circle cx="976.46" cy="910.6" r="1.15" fill="#1e1e1e" />
<circle cx="980.95" cy="910.6" r="1.15" fill="#1e1e1e" />
<circle cx="985.44" cy="910.6" r="1.15" fill="#1e1e1e" />
<circle cx="989.93" cy="910.6" r="1.15" fill="#1e1e1e" />
<circle cx="994.42" cy="910.6" r="1.15" fill="#1e1e1e" />
<circle cx="998.91" cy="910.6" r="1.15" fill="#1e1e1e" />
<circle cx="1003.4" cy="910.6" r="1.15" fill="#1e1e1e" />
<circle cx="1007.89" cy="910.6" r="1.15" fill="#1e1e1e" />
<circle cx="1012.38" cy="910.6" r="1.15" fill="#1e1e1e" />
<circle cx="1016.87" cy="910.6" r="1.15" fill="#1e1e1e" />
<circle cx="1021.36" cy="910.6" r="1.15" fill="#1e1e1e" />
<circle cx="1025.85" cy="910.6" r="1.15" fill="#1e1e1e" />
<circle cx="1030.34" cy="910.6" r="1.15" fill="#1e1e1e" />
<circle cx="1034.83" cy="910.6" r="1.15" fill="#1e1e1e" />
<circle cx="1039.32" cy="910.6" r="1.15" fill="#1e1e1e" />
<circle cx="1043.81" cy="910.6" r="1.15" fill="#1e1e1e" />
<circle cx="1048.3" cy="910.6" r="1.15" fill="#1e1e1e" />
<circle cx="1052.79" cy="910.6" r="1.15" fill="#1e1e1e" />
<circle cx="1057.28" cy="910.6" r="1.15" fill="#1e1e1e" />
<circle cx="1061.77" cy="910.6" r="1.15" fill="#1e1e1e" />
<circle cx="1066.26" cy="910.6" r="1.15" fill="#1e1e1e" />
<circle cx="1070.75" cy="910.6" r="1.15" fill="#1e1e1e" />
<line x1="1106.5" y1="910.6" x2="1235.7" y2="910.6" stroke="#1e1e1e" stroke-width="1.9" />
<circle cx="1106.5" cy="910.6" r="3" fill="#1e1e1e" />
<path d="M0,12 V2 Q0,0 2,0 H6 Q8,0 8,2 V12 M0,5.5 H8" fill="none" stroke="#1e1e1e" stroke-width="1.74" transform="translate(1140.9,924.3) scale(0.95,1.01)" stroke-linejoin="round"/>
<path d="M8,0 H2 Q0,0 0,2 V10 Q0,12 2,12 H8" fill="none" stroke="#1e1e1e" stroke-width="1.74" transform="translate(1151.6,924.3) scale(0.95,1.01)" stroke-linejoin="round"/>
<path d="M0,0 H8 M4,0 V12" fill="none" stroke="#1e1e1e" stroke-width="1.74" transform="translate(1162.3,924.3) scale(0.95,1.01)" stroke-linejoin="round"/>
<path d="M0.5,0 H7.5 M4,0 V12 M0.5,12 H7.5" fill="none" stroke="#1e1e1e" stroke-width="1.74" transform="translate(1173,924.3) scale(0.95,1.01)" stroke-linejoin="round"/>
<path d="M0,0 V6 L4,12 L8,6 V0" fill="none" stroke="#1e1e1e" stroke-width="1.74" transform="translate(1183.7,924.3) scale(0.95,1.01)" stroke-linejoin="round"/>
<path d="M8,0 H2 Q0,0 0,2 V10 Q0,12 2,12 H8 M0,5.5 H8" fill="none" stroke="#1e1e1e" stroke-width="1.74" transform="translate(1194.4,924.3) scale(0.95,1.01)" stroke-linejoin="round"/>
<path d="M682.2,929.5 L693.7,928.6 M681.9,934.6 L694.9,933.4 M687.5,926.2 L689.5,939.4" fill="none" stroke="#1e1e1e" stroke-width="1.75" />
<path d="M700,932.8 H711" fill="none" stroke="#1e1e1e" stroke-width="1.8" />
<path d="M716.1,929.1 H728.5 M721.6,926 V939.3 M719.7,932.6 L716.3,938.2 M724.3,932.6 L729.1,937.9" fill="none" stroke="#1e1e1e" stroke-width="1.75" />
<circle cx="727.9" cy="926.2" r="1" fill="none" stroke="#1e1e1e" stroke-width="0.8" />
<path d="M733.6,932.8 H744.6" fill="none" stroke="#1e1e1e" stroke-width="1.8" />
<path d="M754.2,926.3 V939.4 M755.4,929.6 L761.6,932.1" fill="none" stroke="#1e1e1e" stroke-width="1.8" />
<circle cx="760.6" cy="928" r="1" fill="none" stroke="#1e1e1e" stroke-width="0.8" />
<line x1="662" y1="454.8" x2="750.6" y2="454.8" stroke="#1e1e1e" stroke-width="1.4" />
<line x1="662" y1="459.9" x2="684" y2="459.9" stroke="#1e1e1e" stroke-width="1.6" />
<line x1="662" y1="466.5" x2="731.5" y2="466.5" stroke="#1e1e1e" stroke-width="2.3" />
<line x1="662" y1="471.6" x2="750.6" y2="471.6" stroke="#1e1e1e" stroke-width="2.3" />
<line x1="662" y1="477" x2="766" y2="477" stroke="#1e1e1e" stroke-width="1.6" />
<line x1="662" y1="482.3" x2="720.4" y2="482.3" stroke="#1e1e1e" stroke-width="1.6" />
<line x1="662" y1="488.8" x2="702" y2="488.8" stroke="#1e1e1e" stroke-width="2.3" />
<line x1="662" y1="493.9" x2="728.2" y2="493.9" stroke="#1e1e1e" stroke-width="2" />
<line x1="662" y1="499" x2="715.2" y2="499" stroke="#1e1e1e" stroke-width="2.2" />
<line x1="662" y1="512" x2="706.5" y2="512" stroke="#1e1e1e" stroke-width="2.2" />
<line x1="662" y1="518.6" x2="693.7" y2="518.6" stroke="#1e1e1e" stroke-width="1.8" />
<line x1="662" y1="524" x2="714.3" y2="524" stroke="#1e1e1e" stroke-width="1.6" />
<line x1="662" y1="528.9" x2="724.8" y2="528.9" stroke="#1e1e1e" stroke-width="1.8" />
<circle cx="673.1" cy="584.1" r="13.9" fill="none" stroke="#505050" stroke-width="1.2" />
<circle cx="673.1" cy="623.2" r="13.9" fill="none" stroke="#505050" stroke-width="1.2" />
<circle cx="673.1" cy="662.1" r="13.9" fill="none" stroke="#505050" stroke-width="1.2" />
<circle cx="673.1" cy="701" r="13.9" fill="none" stroke="#505050" stroke-width="1.2" />
<path d="M668.2,577.3 L680.5,584.3 L668.2,591.3Z" fill="none" stroke="#333" stroke-width="1.2" />
<path d="M665.9,619 L680.5,619 L673.1,631Z" fill="none" stroke="#333" stroke-width="1.2" />
<line x1="665.9" y1="619" x2="680.5" y2="619" stroke="#1e1e1e" stroke-width="2" />
<path d="M678.3,654.7 L665.9,661.9 L678.3,669.5Z" fill="none" stroke="#333" stroke-width="1.2" />
<path d="M673.1,693.2 L665.9,705.3 L680.7,705.3Z" fill="none" stroke="#333" stroke-width="1.2" />
<rect x="660.4" y="797.6" width="112.8" height="64.3" fill="none" stroke="#1e1e1e" stroke-width="1.3" />
<line x1="659.8" y1="862" x2="773.8" y2="862" stroke="#1e1e1e" stroke-width="2" />
<rect x="664.1" y="838.38" width="2.6" height="19.72" fill="#1e1e1e" />
<rect x="669.2" y="844.75" width="2.6" height="13.35" fill="#1e1e1e" />
<rect x="674.3" y="852.46" width="2.6" height="5.64" fill="#1e1e1e" />
<rect x="679.4" y="832.42" width="2.6" height="25.68" fill="#1e1e1e" />
<rect x="684.5" y="847.32" width="2.6" height="10.78" fill="#1e1e1e" />
<rect x="689.6" y="824.19" width="2.6" height="33.91" fill="#1e1e1e" />
<rect x="694.7" y="814.43" width="2.6" height="43.67" fill="#1e1e1e" />
<rect x="699.8" y="802.61" width="2.6" height="55.49" fill="#1e1e1e" />
<rect x="704.9" y="801.58" width="2.6" height="56.52" fill="#1e1e1e" />
<rect x="710" y="803.84" width="2.6" height="54.26" fill="#1e1e1e" />
<rect x="715.1" y="810.63" width="2.6" height="47.47" fill="#1e1e1e" />
<rect x="720.2" y="814.43" width="2.6" height="43.67" fill="#1e1e1e" />
<rect x="725.3" y="817.2" width="2.6" height="40.9" fill="#1e1e1e" />
<rect x="730.4" y="823.17" width="2.6" height="34.93" fill="#1e1e1e" />
<rect x="735.5" y="825.43" width="2.6" height="32.67" fill="#1e1e1e" />
<rect x="740.6" y="821.11" width="2.6" height="36.99" fill="#1e1e1e" />
<rect x="745.7" y="805.9" width="2.6" height="52.2" fill="#1e1e1e" />
<rect x="750.8" y="815.46" width="2.6" height="42.64" fill="#1e1e1e" />
<rect x="755.9" y="817.2" width="2.6" height="40.9" fill="#1e1e1e" />
<rect x="761" y="821.11" width="2.6" height="36.99" fill="#1e1e1e" />
<rect x="766.1" y="817.2" width="2.6" height="40.9" fill="#1e1e1e" />
<rect x="783.6" y="845.6" width="5.7" height="5.4" fill="#1e1e1e" />
<rect x="793.9" y="845.6" width="5.7" height="5.4" fill="#1e1e1e" />
<rect x="804.2" y="845.6" width="5.7" height="5.4" fill="#1e1e1e" />
<rect x="783.6" y="857.6" width="5.7" height="5.7" fill="#1e1e1e" />
<rect x="793.9" y="857.6" width="5.7" height="5.7" fill="#1e1e1e" />
<rect x="804.2" y="857.6" width="5.7" height="5.7" fill="#1e1e1e" />
<rect x="814.5" y="857.6" width="5.7" height="5.7" fill="#1e1e1e" />
<rect x="824.8" y="857.6" width="5.7" height="5.7" fill="#1e1e1e" />
<circle cx="952.8" cy="662.3" r="199.6" fill="none" stroke="#d6d6d6" stroke-width="1.1" />
<circle cx="952.8" cy="662.3" r="195.9" fill="none" stroke="#dcdcdc" stroke-width="1.1" />
<path d="M957.03,468.35 A194,194 0 0 1 999.73,474.06 L998.91,477.36 A190.6,190.6 0 0 0 956.96,471.75Z" fill="#d9d9d9" />
<path d="M1006.92,476 A194,194 0 0 1 1045.96,492.13 L1044.33,495.12 A190.6,190.6 0 0 0 1005.98,479.27Z" fill="#d9d9d9" />
<path d="M1146.74,667.04 A194,194 0 0 1 1141.04,709.23 L1137.74,708.41 A190.6,190.6 0 0 0 1143.34,666.96Z" fill="#d9d9d9" />
<path d="M1120.81,759.3 A194,194 0 0 1 1099.21,789.58 L1096.65,787.34 A190.6,190.6 0 0 0 1117.86,757.6Z" fill="#d9d9d9" />
<path d="M946.03,856.18 A194,194 0 0 1 905.87,850.54 L906.69,847.24 A190.6,190.6 0 0 0 946.15,852.78Z" fill="#d9d9d9" />
<path d="M810.92,794.61 A194,194 0 0 1 785.64,760.76 L788.57,759.04 A190.6,190.6 0 0 0 813.4,792.29Z" fill="#d9d9d9" />
<path d="M781.51,753.38 A194,194 0 0 1 765.41,712.51 L768.69,711.63 A190.6,190.6 0 0 0 784.51,751.78Z" fill="#d9d9d9" />
<circle cx="952.8" cy="662.3" r="169.6" fill="none" stroke="#dadada" stroke-width="3.6" />
<path d="M1128.27,643.24 A176.5,176.5 0 0 1 1128.23,681.67 L1124.56,681.26 A172.8,172.8 0 0 0 1124.59,643.64Z" fill="#1e1e1e" />
<path d="M1127.03,690.52 A176.5,176.5 0 0 1 1122.46,710.95 L1118.91,709.93 A172.8,172.8 0 0 0 1123.38,689.93Z" fill="#1e1e1e" />
<path d="M1125.83,711.91 A180,180 0 1 1 1107.09,569.59 L1100.92,573.3 A172.8,172.8 0 1 0 1118.91,709.93Z" fill="#1e1e1e" />
<path d="M949.18,481.74 A180.6,180.6 0 0 1 956.42,481.74 L956.34,485.94 A176.4,176.4 0 0 0 949.26,485.94Z" fill="#ececec" />
<path d="M972.31,486.98 A176.4,176.4 0 0 1 979.33,487.91 L978.71,491.96 A172.3,172.3 0 0 0 971.86,491.06Z" fill="#ececec" />
<path d="M996.03,486.95 A180.6,180.6 0 0 1 1003.03,488.83 L1001.87,492.86 A176.4,176.4 0 0 0 995.03,491.03Z" fill="#ececec" />
<path d="M1017.02,498.01 A176.4,176.4 0 0 1 1023.56,500.72 L1021.92,504.47 A172.3,172.3 0 0 0 1015.53,501.82Z" fill="#ececec" />
<path d="M1039.94,504.11 A180.6,180.6 0 0 1 1046.22,507.74 L1044.05,511.33 A176.4,176.4 0 0 0 1037.92,507.79Z" fill="#ececec" />
<path d="M1057.36,520.23 A176.4,176.4 0 0 1 1062.97,524.54 L1060.41,527.74 A172.3,172.3 0 0 0 1054.93,523.53Z" fill="#ececec" />
<path d="M1077.91,532.06 A180.6,180.6 0 0 1 1083.04,537.19 L1080.01,540.09 A176.4,176.4 0 0 0 1075.01,535.09Z" fill="#ececec" />
<path d="M1090.56,552.13 A176.4,176.4 0 0 1 1094.87,557.74 L1091.57,560.17 A172.3,172.3 0 0 0 1087.36,554.69Z" fill="#ececec" />
<path d="M1117.09,726.52 A176.4,176.4 0 0 1 1114.38,733.06 L1110.63,731.42 A172.3,172.3 0 0 0 1113.28,725.03Z" fill="#ececec" />
<path d="M1110.99,749.44 A180.6,180.6 0 0 1 1107.36,755.72 L1103.77,753.55 A176.4,176.4 0 0 0 1107.31,747.42Z" fill="#ececec" />
<path d="M1094.87,766.86 A176.4,176.4 0 0 1 1090.56,772.47 L1087.36,769.91 A172.3,172.3 0 0 0 1091.57,764.43Z" fill="#ececec" />
<path d="M1083.04,787.41 A180.6,180.6 0 0 1 1077.91,792.54 L1075.01,789.51 A176.4,176.4 0 0 0 1080.01,784.51Z" fill="#ececec" />
<path d="M1062.97,800.06 A176.4,176.4 0 0 1 1057.36,804.37 L1054.93,801.07 A172.3,172.3 0 0 0 1060.41,796.86Z" fill="#ececec" />
<path d="M1046.22,816.86 A180.6,180.6 0 0 1 1039.94,820.49 L1037.92,816.81 A176.4,176.4 0 0 0 1044.05,813.27Z" fill="#ececec" />
<path d="M1023.56,823.88 A176.4,176.4 0 0 1 1017.02,826.59 L1015.53,822.78 A172.3,172.3 0 0 0 1021.92,820.13Z" fill="#ececec" />
<path d="M1003.03,835.77 A180.6,180.6 0 0 1 996.03,837.65 L995.03,833.57 A176.4,176.4 0 0 0 1001.87,831.74Z" fill="#ececec" />
<path d="M979.33,836.69 A176.4,176.4 0 0 1 972.31,837.62 L971.86,833.54 A172.3,172.3 0 0 0 978.71,832.64Z" fill="#ececec" />
<path d="M956.42,842.86 A180.6,180.6 0 0 1 949.18,842.86 L949.26,838.66 A176.4,176.4 0 0 0 956.34,838.66Z" fill="#ececec" />
<path d="M933.29,837.62 A176.4,176.4 0 0 1 926.27,836.69 L926.89,832.64 A172.3,172.3 0 0 0 933.74,833.54Z" fill="#ececec" />
<path d="M909.57,837.65 A180.6,180.6 0 0 1 902.57,835.77 L903.73,831.74 A176.4,176.4 0 0 0 910.57,833.57Z" fill="#ececec" />
<path d="M888.58,826.59 A176.4,176.4 0 0 1 882.04,823.88 L883.68,820.13 A172.3,172.3 0 0 0 890.07,822.78Z" fill="#ececec" />
<path d="M865.66,820.49 A180.6,180.6 0 0 1 859.38,816.86 L861.55,813.27 A176.4,176.4 0 0 0 867.68,816.81Z" fill="#ececec" />
<path d="M848.24,804.37 A176.4,176.4 0 0 1 842.63,800.06 L845.19,796.86 A172.3,172.3 0 0 0 850.67,801.07Z" fill="#ececec" />
<path d="M827.69,792.54 A180.6,180.6 0 0 1 822.56,787.41 L825.59,784.51 A176.4,176.4 0 0 0 830.59,789.51Z" fill="#ececec" />
<path d="M815.04,772.47 A176.4,176.4 0 0 1 810.73,766.86 L814.03,764.43 A172.3,172.3 0 0 0 818.24,769.91Z" fill="#ececec" />
<path d="M798.24,755.72 A180.6,180.6 0 0 1 794.61,749.44 L798.29,747.42 A176.4,176.4 0 0 0 801.83,753.55Z" fill="#ececec" />
<path d="M791.22,733.06 A176.4,176.4 0 0 1 788.51,726.52 L792.32,725.03 A172.3,172.3 0 0 0 794.97,731.42Z" fill="#ececec" />
<path d="M779.33,712.53 A180.6,180.6 0 0 1 777.45,705.53 L781.53,704.53 A176.4,176.4 0 0 0 783.36,711.37Z" fill="#ececec" />
<path d="M778.41,688.83 A176.4,176.4 0 0 1 777.48,681.81 L781.56,681.36 A172.3,172.3 0 0 0 782.46,688.21Z" fill="#ececec" />
<path d="M772.24,665.92 A180.6,180.6 0 0 1 772.24,658.68 L776.44,658.76 A176.4,176.4 0 0 0 776.44,665.84Z" fill="#ececec" />
<path d="M777.48,642.79 A176.4,176.4 0 0 1 778.41,635.77 L782.46,636.39 A172.3,172.3 0 0 0 781.56,643.24Z" fill="#ececec" />
<path d="M777.45,619.07 A180.6,180.6 0 0 1 779.33,612.07 L783.36,613.23 A176.4,176.4 0 0 0 781.53,620.07Z" fill="#ececec" />
<path d="M788.51,598.08 A176.4,176.4 0 0 1 791.22,591.54 L794.97,593.18 A172.3,172.3 0 0 0 792.32,599.57Z" fill="#ececec" />
<path d="M794.61,575.16 A180.6,180.6 0 0 1 798.24,568.88 L801.83,571.05 A176.4,176.4 0 0 0 798.29,577.18Z" fill="#ececec" />
<path d="M810.73,557.74 A176.4,176.4 0 0 1 815.04,552.13 L818.24,554.69 A172.3,172.3 0 0 0 814.03,560.17Z" fill="#ececec" />
<path d="M822.56,537.19 A180.6,180.6 0 0 1 827.69,532.06 L830.59,535.09 A176.4,176.4 0 0 0 825.59,540.09Z" fill="#ececec" />
<path d="M842.63,524.54 A176.4,176.4 0 0 1 848.24,520.23 L850.67,523.53 A172.3,172.3 0 0 0 845.19,527.74Z" fill="#ececec" />
<path d="M859.38,507.74 A180.6,180.6 0 0 1 865.66,504.11 L867.68,507.79 A176.4,176.4 0 0 0 861.55,511.33Z" fill="#ececec" />
<path d="M882.04,500.72 A176.4,176.4 0 0 1 888.58,498.01 L890.07,501.82 A172.3,172.3 0 0 0 883.68,504.47Z" fill="#ececec" />
<path d="M902.57,488.83 A180.6,180.6 0 0 1 909.57,486.95 L910.57,491.03 A176.4,176.4 0 0 0 903.73,492.86Z" fill="#ececec" />
<path d="M926.27,487.91 A176.4,176.4 0 0 1 933.29,486.98 L933.74,491.06 A172.3,172.3 0 0 0 926.89,491.96Z" fill="#ececec" />
<path d="M1107.39,573.05 A178.5,178.5 0 0 1 1115.87,589.7 L1111.3,591.73 A173.5,173.5 0 0 0 1103.06,575.55Z" fill="#d8d8d8" />
<path d="M1117.11,592.55 A178.5,178.5 0 0 1 1124.39,613.1 L1119.58,614.48 A173.5,173.5 0 0 0 1112.51,594.51Z" fill="#d8d8d8" />
<path d="M1125.22,616.1 A178.5,178.5 0 0 1 1129.34,635.92 L1124.39,636.66 A173.5,173.5 0 0 0 1120.39,617.39Z" fill="#d8d8d8" />
<path d="M796.2,662.3 A156.6,156.6 0 1 1 963.72,818.52" fill="none" stroke="#1e1e1e" stroke-width="1.3" />
<circle cx="952.7" cy="533.1" r="16.7" fill="none" stroke="#333" stroke-width="1.1" />
<circle cx="952.7" cy="533.1" r="11.5" fill="none" stroke="#333" stroke-width="1.1" />
<path d="M835,560.9 L850.4,544.4 L858.1,567.5Z" fill="#1e1e1e" />
<path d="M1087.2,662.3 L1109.6,651.3 L1109.6,673.3Z" fill="#1e1e1e" />
<path d="M1082.2,697.5 L1107.9,690.9 L1099.7,714.6Z" fill="#1e1e1e" />
<path d="M941.2,818.5 L953.5,795.9 L964.8,818.5Z" fill="#1e1e1e" />
<path d="M982.3,815.4 L988.1,791.8 L1005,809.3Z" fill="#1e1e1e" />
<path d="M1048.6,663.05 A95.8,95.8 0 0 1 1045.53,686.37 L1026.17,681.34 A75.8,75.8 0 0 0 1028.6,662.9Z" fill="#d6d6d6" />
<path d="M1045.14,687.82 A95.8,95.8 0 0 1 1036.14,709.55 L1018.74,699.68 A75.8,75.8 0 0 0 1025.86,682.49Z" fill="#d6d6d6" />
<path d="M1035.39,710.85 A95.8,95.8 0 0 1 1021.07,729.51 L1006.82,715.48 A75.8,75.8 0 0 0 1018.15,700.71Z" fill="#d6d6d6" />
<path d="M1020.01,730.57 A95.8,95.8 0 0 1 1001.35,744.89 L991.21,727.65 A75.8,75.8 0 0 0 1005.98,716.32Z" fill="#d6d6d6" />
<path d="M1000.05,745.64 A95.8,95.8 0 0 1 978.32,754.64 L972.99,735.36 A75.8,75.8 0 0 0 990.18,728.24Z" fill="#d6d6d6" />
<path d="M976.87,755.03 A95.8,95.8 0 0 1 953.55,758.1 L953.4,738.1 A75.8,75.8 0 0 0 971.84,735.67Z" fill="#d6d6d6" />
<path d="M952.05,758.1 A95.8,95.8 0 0 1 928.73,755.03 L933.76,735.67 A75.8,75.8 0 0 0 952.2,738.1Z" fill="#d6d6d6" />
<path d="M927.28,754.64 A95.8,95.8 0 0 1 905.55,745.64 L915.42,728.24 A75.8,75.8 0 0 0 932.61,735.36Z" fill="#d6d6d6" />
<path d="M904.25,744.89 A95.8,95.8 0 0 1 885.59,730.57 L899.62,716.32 A75.8,75.8 0 0 0 914.39,727.65Z" fill="#d6d6d6" />
<path d="M884.53,729.51 A95.8,95.8 0 0 1 870.21,710.85 L887.45,700.71 A75.8,75.8 0 0 0 898.78,715.48Z" fill="#d6d6d6" />
<path d="M869.46,709.55 A95.8,95.8 0 0 1 860.46,687.82 L879.74,682.49 A75.8,75.8 0 0 0 886.86,699.68Z" fill="#d6d6d6" />
<path d="M860.07,686.37 A95.8,95.8 0 0 1 857,663.05 L877,662.9 A75.8,75.8 0 0 0 879.43,681.34Z" fill="#d6d6d6" />
<path d="M857,661.55 A95.8,95.8 0 0 1 860.07,638.23 L879.43,643.26 A75.8,75.8 0 0 0 877,661.7Z" fill="#d6d6d6" />
<path d="M860.46,636.78 A95.8,95.8 0 0 1 869.46,615.05 L886.86,624.92 A75.8,75.8 0 0 0 879.74,642.11Z" fill="#d6d6d6" />
<path d="M870.21,613.75 A95.8,95.8 0 0 1 884.53,595.09 L898.78,609.12 A75.8,75.8 0 0 0 887.45,623.89Z" fill="#d6d6d6" />
<path d="M885.59,594.03 A95.8,95.8 0 0 1 904.25,579.71 L914.39,596.95 A75.8,75.8 0 0 0 899.62,608.28Z" fill="#d6d6d6" />
<path d="M905.55,578.96 A95.8,95.8 0 0 1 927.28,569.96 L932.61,589.24 A75.8,75.8 0 0 0 915.42,596.36Z" fill="#d6d6d6" />
<path d="M928.73,569.57 A95.8,95.8 0 0 1 952.05,566.5 L952.2,586.5 A75.8,75.8 0 0 0 933.76,588.93Z" fill="#d6d6d6" />
<path d="M953.55,566.5 A95.8,95.8 0 0 1 976.87,569.57 L971.84,588.93 A75.8,75.8 0 0 0 953.4,586.5Z" fill="#d6d6d6" />
<path d="M978.32,569.96 A95.8,95.8 0 0 1 1000.05,578.96 L990.18,596.36 A75.8,75.8 0 0 0 972.99,589.24Z" fill="#d6d6d6" />
<path d="M1001.35,579.71 A95.8,95.8 0 0 1 1020.01,594.03 L1005.98,608.28 A75.8,75.8 0 0 0 991.21,596.95Z" fill="#d6d6d6" />
<path d="M1021.07,595.09 A95.8,95.8 0 0 1 1035.39,613.75 L1018.15,623.89 A75.8,75.8 0 0 0 1006.82,609.12Z" fill="#d6d6d6" />
<path d="M1036.14,615.05 A95.8,95.8 0 0 1 1045.14,636.78 L1025.86,642.11 A75.8,75.8 0 0 0 1018.74,624.92Z" fill="#d6d6d6" />
<path d="M1045.53,638.23 A95.8,95.8 0 0 1 1048.6,661.55 L1028.6,661.7 A75.8,75.8 0 0 0 1026.17,643.26Z" fill="#d6d6d6" />
<circle cx="952.8" cy="662.3" r="73" fill="none" stroke="#1e1e1e" stroke-width="2.9" />
<line x1="1011.3" y1="662.3" x2="1021.4" y2="662.3" stroke="#1e1e1e" stroke-width="1.5" />
<line x1="1010.98" y1="668.41" x2="1021.02" y2="669.47" stroke="#1e1e1e" stroke-width="1.5" />
<line x1="1010.02" y1="674.46" x2="1019.9" y2="676.56" stroke="#1e1e1e" stroke-width="1.5" />
<line x1="1008.44" y1="680.38" x2="1018.04" y2="683.5" stroke="#1e1e1e" stroke-width="1.5" />
<line x1="1006.24" y1="686.09" x2="1015.47" y2="690.2" stroke="#1e1e1e" stroke-width="1.5" />
<line x1="1003.46" y1="691.55" x2="1012.21" y2="696.6" stroke="#1e1e1e" stroke-width="1.5" />
<line x1="1000.13" y1="696.69" x2="1008.3" y2="702.62" stroke="#1e1e1e" stroke-width="1.5" />
<line x1="996.27" y1="701.44" x2="1003.78" y2="708.2" stroke="#1e1e1e" stroke-width="1.5" />
<line x1="991.94" y1="705.77" x2="998.7" y2="713.28" stroke="#1e1e1e" stroke-width="1.5" />
<line x1="987.19" y1="709.63" x2="993.12" y2="717.8" stroke="#1e1e1e" stroke-width="1.5" />
<line x1="982.05" y1="712.96" x2="987.1" y2="721.71" stroke="#1e1e1e" stroke-width="1.5" />
<line x1="976.59" y1="715.74" x2="980.7" y2="724.97" stroke="#1e1e1e" stroke-width="1.5" />
<line x1="970.88" y1="717.94" x2="974" y2="727.54" stroke="#1e1e1e" stroke-width="1.5" />
<line x1="964.96" y1="719.52" x2="967.06" y2="729.4" stroke="#1e1e1e" stroke-width="1.5" />
<line x1="958.91" y1="720.48" x2="959.97" y2="730.52" stroke="#1e1e1e" stroke-width="1.5" />
<line x1="952.8" y1="720.8" x2="952.8" y2="730.9" stroke="#1e1e1e" stroke-width="1.5" />
<line x1="946.69" y1="720.48" x2="945.63" y2="730.52" stroke="#1e1e1e" stroke-width="1.5" />
<line x1="940.64" y1="719.52" x2="938.54" y2="729.4" stroke="#1e1e1e" stroke-width="1.5" />
<line x1="934.72" y1="717.94" x2="931.6" y2="727.54" stroke="#1e1e1e" stroke-width="1.5" />
<line x1="929.01" y1="715.74" x2="924.9" y2="724.97" stroke="#1e1e1e" stroke-width="1.5" />
<line x1="923.55" y1="712.96" x2="918.5" y2="721.71" stroke="#1e1e1e" stroke-width="1.5" />
<line x1="918.41" y1="709.63" x2="912.48" y2="717.8" stroke="#1e1e1e" stroke-width="1.5" />
<line x1="913.66" y1="705.77" x2="906.9" y2="713.28" stroke="#1e1e1e" stroke-width="1.5" />
<line x1="909.33" y1="701.44" x2="901.82" y2="708.2" stroke="#1e1e1e" stroke-width="1.5" />
<line x1="905.47" y1="696.69" x2="897.3" y2="702.62" stroke="#1e1e1e" stroke-width="1.5" />
<line x1="902.14" y1="691.55" x2="893.39" y2="696.6" stroke="#1e1e1e" stroke-width="1.5" />
<line x1="899.36" y1="686.09" x2="890.13" y2="690.2" stroke="#1e1e1e" stroke-width="1.5" />
<line x1="897.16" y1="680.38" x2="887.56" y2="683.5" stroke="#1e1e1e" stroke-width="1.5" />
<line x1="895.58" y1="674.46" x2="885.7" y2="676.56" stroke="#1e1e1e" stroke-width="1.5" />
<line x1="894.62" y1="668.41" x2="884.58" y2="669.47" stroke="#1e1e1e" stroke-width="1.5" />
<line x1="894.3" y1="662.3" x2="884.2" y2="662.3" stroke="#1e1e1e" stroke-width="1.5" />
<line x1="894.62" y1="656.19" x2="884.58" y2="655.13" stroke="#1e1e1e" stroke-width="1.5" />
<line x1="895.58" y1="650.14" x2="885.7" y2="648.04" stroke="#1e1e1e" stroke-width="1.5" />
<line x1="897.16" y1="644.22" x2="887.56" y2="641.1" stroke="#1e1e1e" stroke-width="1.5" />
<line x1="899.36" y1="638.51" x2="890.13" y2="634.4" stroke="#1e1e1e" stroke-width="1.5" />
<line x1="902.14" y1="633.05" x2="893.39" y2="628" stroke="#1e1e1e" stroke-width="1.5" />
<line x1="905.47" y1="627.91" x2="897.3" y2="621.98" stroke="#1e1e1e" stroke-width="1.5" />
<line x1="909.33" y1="623.16" x2="901.82" y2="616.4" stroke="#1e1e1e" stroke-width="1.5" />
<line x1="913.66" y1="618.83" x2="906.9" y2="611.32" stroke="#1e1e1e" stroke-width="1.5" />
<line x1="918.41" y1="614.97" x2="912.48" y2="606.8" stroke="#1e1e1e" stroke-width="1.5" />
<line x1="923.55" y1="611.64" x2="918.5" y2="602.89" stroke="#1e1e1e" stroke-width="1.5" />
<line x1="929.01" y1="608.86" x2="924.9" y2="599.63" stroke="#1e1e1e" stroke-width="1.5" />
<line x1="934.72" y1="606.66" x2="931.6" y2="597.06" stroke="#1e1e1e" stroke-width="1.5" />
<line x1="940.64" y1="605.08" x2="938.54" y2="595.2" stroke="#1e1e1e" stroke-width="1.5" />
<line x1="946.69" y1="604.12" x2="945.63" y2="594.08" stroke="#1e1e1e" stroke-width="1.5" />
<line x1="952.8" y1="603.8" x2="952.8" y2="593.7" stroke="#1e1e1e" stroke-width="1.5" />
<line x1="958.91" y1="604.12" x2="959.97" y2="594.08" stroke="#1e1e1e" stroke-width="1.5" />
<line x1="964.96" y1="605.08" x2="967.06" y2="595.2" stroke="#1e1e1e" stroke-width="1.5" />
<line x1="970.88" y1="606.66" x2="974" y2="597.06" stroke="#1e1e1e" stroke-width="1.5" />
<line x1="976.59" y1="608.86" x2="980.7" y2="599.63" stroke="#1e1e1e" stroke-width="1.5" />
<line x1="982.05" y1="611.64" x2="987.1" y2="602.89" stroke="#1e1e1e" stroke-width="1.5" />
<line x1="987.19" y1="614.97" x2="993.12" y2="606.8" stroke="#1e1e1e" stroke-width="1.5" />
<line x1="991.94" y1="618.83" x2="998.7" y2="611.32" stroke="#1e1e1e" stroke-width="1.5" />
<line x1="996.27" y1="623.16" x2="1003.78" y2="616.4" stroke="#1e1e1e" stroke-width="1.5" />
<line x1="1000.13" y1="627.91" x2="1008.3" y2="621.98" stroke="#1e1e1e" stroke-width="1.5" />
<line x1="1003.46" y1="633.05" x2="1012.21" y2="628" stroke="#1e1e1e" stroke-width="1.5" />
<line x1="1006.24" y1="638.51" x2="1015.47" y2="634.4" stroke="#1e1e1e" stroke-width="1.5" />
<line x1="1008.44" y1="644.22" x2="1018.04" y2="641.1" stroke="#1e1e1e" stroke-width="1.5" />
<line x1="1010.02" y1="650.14" x2="1019.9" y2="648.04" stroke="#1e1e1e" stroke-width="1.5" />
<line x1="1010.98" y1="656.19" x2="1021.02" y2="655.13" stroke="#1e1e1e" stroke-width="1.5" />
<circle cx="952.8" cy="662.3" r="55.9" fill="none" stroke="#a0a0a0" stroke-width="1.3" />
<circle cx="952.8" cy="662.3" r="53.4" fill="none" stroke="#1e1e1e" stroke-width="2.1" />
<line x1="934.1" y1="643.6" x2="971.5" y2="681" stroke="#1e1e1e" stroke-width="1.2" />
<line x1="934.1" y1="681" x2="971.5" y2="643.6" stroke="#1e1e1e" stroke-width="1.2" />
<circle cx="952.8" cy="662.3" r="2.4" fill="#1e1e1e" />
<rect x="1090.1" y="452.2" width="5.2" height="12.3" fill="#1e1e1e" />
<path d="M1161.2,465.7 V459.3 Q1161.2,458.2 1162,457.4 L1166.2,453 Q1167,452.2 1168.1,452.2 H1174.7 V465.7Z" fill="url(#tabg)" />
<path d="M1176.4,465.7 V459.3 Q1176.4,458.2 1177.2,457.4 L1181.4,453 Q1182.2,452.2 1183.3,452.2 H1189.9 V465.7Z" fill="url(#tabg)" />
<path d="M1191.6,465.7 V459.3 Q1191.6,458.2 1192.4,457.4 L1196.6,453 Q1197.4,452.2 1198.5,452.2 H1205.1 V465.7Z" fill="url(#tabg)" />
<path d="M1207,465.7 V459.3 Q1207,458.2 1207.8,457.4 L1212,453 Q1212.8,452.2 1213.9,452.2 H1220.5 V465.7Z" fill="url(#tabg)" />
<path d="M1222,465.7 V459.3 Q1222,458.2 1222.8,457.4 L1227,453 Q1227.8,452.2 1228.9,452.2 H1235.5 V465.7Z" fill="url(#tabg)" />
<path d="M1237.2,469.6 L1143.7,469.6 L1096.2,510.6" fill="none" stroke="#333" stroke-width="1" />
<line x1="1163.5" y1="483.4" x2="1237.2" y2="483.4" stroke="#1e1e1e" stroke-width="1.6" />
<circle cx="1163.5" cy="483.4" r="1.9" fill="#1e1e1e" />
<circle cx="1237.2" cy="483.4" r="1.9" fill="#1e1e1e" />
<rect x="1197.2" y="480.4" width="6" height="6" fill="#1e1e1e" />
<line x1="1163.5" y1="494.85" x2="1237.2" y2="494.85" stroke="#1e1e1e" stroke-width="1.6" />
<circle cx="1163.5" cy="494.85" r="1.9" fill="#1e1e1e" />
<circle cx="1237.2" cy="494.85" r="1.9" fill="#1e1e1e" />
<rect x="1176.9" y="491.85" width="6" height="6" fill="#1e1e1e" />
<line x1="1163.5" y1="506.3" x2="1237.2" y2="506.3" stroke="#1e1e1e" stroke-width="1.6" />
<circle cx="1163.5" cy="506.3" r="1.9" fill="#1e1e1e" />
<circle cx="1237.2" cy="506.3" r="1.9" fill="#1e1e1e" />
<rect x="1215" y="503.3" width="6" height="6" fill="#1e1e1e" />
<line x1="1163.5" y1="517.75" x2="1237.2" y2="517.75" stroke="#1e1e1e" stroke-width="1.6" />
<circle cx="1163.5" cy="517.75" r="1.9" fill="#1e1e1e" />
<circle cx="1237.2" cy="517.75" r="1.9" fill="#1e1e1e" />
<rect x="1215" y="514.75" width="6" height="6" fill="#1e1e1e" />
<line x1="1163.5" y1="529.2" x2="1237.2" y2="529.2" stroke="#1e1e1e" stroke-width="1.6" />
<circle cx="1163.5" cy="529.2" r="1.9" fill="#1e1e1e" />
<circle cx="1237.2" cy="529.2" r="1.9" fill="#1e1e1e" />
<rect x="1197.2" y="526.2" width="6" height="6" fill="#1e1e1e" />
<line x1="1163.5" y1="540.65" x2="1237.2" y2="540.65" stroke="#1e1e1e" stroke-width="1.6" />
<circle cx="1163.5" cy="540.65" r="1.9" fill="#1e1e1e" />
<circle cx="1237.2" cy="540.65" r="1.9" fill="#1e1e1e" />
<rect x="1185.1" y="537.65" width="6" height="6" fill="#1e1e1e" />
<line x1="1163.5" y1="552.1" x2="1237.2" y2="552.1" stroke="#1e1e1e" stroke-width="1.6" />
<circle cx="1163.5" cy="552.1" r="1.9" fill="#1e1e1e" />
<circle cx="1237.2" cy="552.1" r="1.9" fill="#1e1e1e" />
<rect x="1168.7" y="549.1" width="6" height="6" fill="#1e1e1e" />
<rect x="1193.8" y="588" width="18.3" height="18.1" fill="none" stroke="#333" stroke-width="1.2" />
<path d="M1202.95,588.85 L1211.15,597.05 L1202.95,605.25 L1194.75,597.05Z" fill="#1e1e1e" />
<path d="M1202.95,592.75 L1207.25,597.05 L1202.95,601.35 L1198.65,597.05Z" fill="#f0f0f0" />
<circle cx="1202.95" cy="597.05" r="1.1" fill="#1e1e1e" />
<rect x="1219" y="588" width="18.3" height="18.1" fill="none" stroke="#333" stroke-width="1.2" />
<path d="M1228.15,588.85 L1236.35,597.05 L1228.15,605.25 L1219.95,597.05Z" fill="#1e1e1e" />
<path d="M1228.15,592.75 L1232.45,597.05 L1228.15,601.35 L1223.85,597.05Z" fill="#f0f0f0" />
<circle cx="1228.15" cy="597.05" r="1.1" fill="#1e1e1e" />
<rect x="1193.8" y="611.7" width="18.3" height="18.1" fill="none" stroke="#333" stroke-width="1.2" />
<path d="M1202.95,612.55 L1211.15,620.75 L1202.95,628.95 L1194.75,620.75Z" fill="#1e1e1e" />
<path d="M1202.95,616.45 L1207.25,620.75 L1202.95,625.05 L1198.65,620.75Z" fill="#f0f0f0" />
<circle cx="1202.95" cy="620.75" r="1.1" fill="#1e1e1e" />
<rect x="1219" y="611.7" width="18.3" height="18.1" fill="none" stroke="#333" stroke-width="1.2" />
<path d="M1228.15,612.55 L1236.35,620.75 L1228.15,628.95 L1219.95,620.75Z" fill="#1e1e1e" />
<path d="M1228.15,616.45 L1232.45,620.75 L1228.15,625.05 L1223.85,620.75Z" fill="#f0f0f0" />
<circle cx="1228.15" cy="620.75" r="1.1" fill="#1e1e1e" />
<rect x="1219" y="635.8" width="18.3" height="18.1" fill="none" stroke="#333" stroke-width="1.2" />
<path d="M1228.15,636.65 L1236.35,644.85 L1228.15,653.05 L1219.95,644.85Z" fill="#1e1e1e" />
<path d="M1228.15,640.55 L1232.45,644.85 L1228.15,649.15 L1223.85,644.85Z" fill="#f0f0f0" />
<circle cx="1228.15" cy="644.85" r="1.1" fill="#1e1e1e" />
<circle cx="1195.7" cy="813.7" r="36" fill="none" stroke="#e2e2e2" stroke-width="3" />
<circle cx="1195.7" cy="813.7" r="27" fill="none" stroke="#e4e4e4" stroke-width="4" />
<path d="M1195.1,813.7 L1183.2,778.7 Q1195.7,775.2 1208.2,778.7 L1196.3,813.7 Z" fill="url(#cone)" />
<circle cx="1195.7" cy="813.7" r="16.7" fill="none" stroke="#1e1e1e" stroke-width="1.6" />
<circle cx="1195.7" cy="813.7" r="4.6" fill="#262626" />
<circle cx="1195.7" cy="813.7" r="2.3" fill="none" stroke="#555" stroke-width="0.8" />
<line x1="1153.6" y1="813.7" x2="1161.9" y2="813.7" stroke="#1e1e1e" stroke-width="1.6" />
<line x1="1229" y1="813.7" x2="1237.3" y2="813.7" stroke="#1e1e1e" stroke-width="1.6" />
<line x1="1147.6" y1="766.1" x2="1173.5" y2="791.5" stroke="#888" stroke-width="1.1" stroke-dasharray="1.5,2.6"/>
<line x1="1218.8" y1="791.1" x2="1244.2" y2="765.6" stroke="#888" stroke-width="1.1" stroke-dasharray="1.5,2.6"/>
<line x1="1172.6" y1="836.4" x2="1147.6" y2="862.3" stroke="#888" stroke-width="1.1" stroke-dasharray="1.5,2.6"/>
<line x1="1218.8" y1="836.4" x2="1244.2" y2="862.3" stroke="#888" stroke-width="1.1" stroke-dasharray="1.5,2.6"/>
<line x1="1235.46" y1="821.43" x2="1237.42" y2="821.81" stroke="#999" stroke-width="1" />
<line x1="1229.47" y1="836.05" x2="1231.14" y2="837.16" stroke="#999" stroke-width="1" />
<line x1="1218.35" y1="847.28" x2="1219.47" y2="848.93" stroke="#999" stroke-width="1" />
<line x1="1203.77" y1="853.39" x2="1204.17" y2="855.35" stroke="#999" stroke-width="1" />
<line x1="1187.97" y1="853.46" x2="1187.59" y2="855.42" stroke="#999" stroke-width="1" />
<line x1="1173.35" y1="847.47" x2="1172.24" y2="849.14" stroke="#999" stroke-width="1" />
<line x1="1162.12" y1="836.35" x2="1160.47" y2="837.47" stroke="#999" stroke-width="1" />
<line x1="1156.01" y1="821.77" x2="1154.05" y2="822.17" stroke="#999" stroke-width="1" />
<line x1="1155.94" y1="805.97" x2="1153.98" y2="805.59" stroke="#999" stroke-width="1" />
<line x1="1161.93" y1="791.35" x2="1160.26" y2="790.24" stroke="#999" stroke-width="1" />
<line x1="1173.05" y1="780.12" x2="1171.93" y2="778.47" stroke="#999" stroke-width="1" />
<line x1="1187.63" y1="774.01" x2="1187.23" y2="772.05" stroke="#999" stroke-width="1" />
<line x1="1203.43" y1="773.94" x2="1203.81" y2="771.98" stroke="#999" stroke-width="1" />
<line x1="1218.05" y1="779.93" x2="1219.16" y2="778.26" stroke="#999" stroke-width="1" />
<line x1="1229.28" y1="791.05" x2="1230.93" y2="789.93" stroke="#999" stroke-width="1" />
<line x1="1235.39" y1="805.63" x2="1237.35" y2="805.23" stroke="#999" stroke-width="1" />
<circle cx="1453.5" cy="409.1" r="13.2" fill="none" stroke="#1e1e1e" stroke-width="1.6" />
<circle cx="1453.5" cy="409.1" r="4.7" fill="#1e1e1e" />
<line x1="1463" y1="409.1" x2="1470.3" y2="409.1" stroke="#1e1e1e" stroke-width="1.6" />
<line x1="1444" y1="409.1" x2="1436.7" y2="409.1" stroke="#1e1e1e" stroke-width="1.6" />
<line x1="1453.5" y1="418.6" x2="1453.5" y2="425.9" stroke="#1e1e1e" stroke-width="1.6" />
<line x1="1453.5" y1="399.6" x2="1453.5" y2="392.3" stroke="#1e1e1e" stroke-width="1.6" />
<path d="M1392.08,491.02 L1394.07,486.64 L1398.45,483.45 L1397.26,479.47 L1400.45,473.89 L1404.43,473.1 L1406.02,476.28 L1408.41,472.3 L1411.6,466.73 L1415.58,464.34 L1420.36,458.76 L1423.54,461.95 L1428.32,461.95 L1433.1,460.35 L1441.07,461.95 L1449.03,461.95 L1457,461.95 L1464.17,462.74 L1462.57,469.12 L1460.18,473.89 L1458.59,478.67 L1455.4,477.08 L1454.61,483.45 L1450.63,489.82 L1449.03,494.6 L1445.85,499.38 L1442.66,502.57 L1440.27,505.75 L1439.47,510.53 L1437.08,505.75 L1434.7,500.18 L1431.51,505.75 L1429.12,500.98 L1425.93,498.59 L1422.75,497.79 L1419.56,500.98 L1416.38,496.2 L1413.99,492.21 L1410,491.42 L1406.82,493.01 L1403.63,490.62 L1399.65,491.42 L1396.46,493.01Z" fill="#d3d3d3" />
<path d="M1387.3,497.79 L1390.09,494.6 L1396.46,493.41 L1403.63,494.6 L1410,495.4 L1413.99,497.79 L1417.17,501.77 L1419.56,504.96 L1415.58,508.94 L1412.39,512.92 L1410,517.7 L1406.02,523.28 L1402.84,521.68 L1400.45,515.31 L1399.65,508.94 L1396.46,505.75 L1390.89,505.75 L1387.7,502.57Z" fill="#d3d3d3" />
<path d="M1413.99,497.79 L1422.75,498.59 L1424.34,501.77 L1419.56,504.96 L1417.17,501.77Z" fill="#d3d3d3" />
<path d="M1328.76,470.71 L1332.74,465.13 L1339.12,463.14 L1345.49,465.93 L1351.06,463.94 L1356.64,460.35 L1363.01,459.56 L1366.99,461.15 L1369.38,465.93 L1367.79,470.71 L1371.77,475.49 L1368.59,480.27 L1364.6,484.25 L1361.42,487.44 L1356.64,489.82 L1353.45,494.6 L1350.27,497.79 L1355.84,500.98 L1354.25,503.37 L1349.47,499.38 L1345.49,496.2 L1341.51,491.42 L1339.91,485.05 L1338.32,477.88 L1335.13,473.89 L1330.35,473.89Z" fill="#d3d3d3" />
<path d="M1366.99,457.17 L1375.75,455.97 L1388.5,457.96 L1387.7,465.13 L1382.13,471.51 L1375.75,477.08 L1374.16,470.71 L1369.38,465.13Z" fill="#d3d3d3" />
<path d="M1357.44,505.75 L1363.01,503.76 L1369.38,507.35 L1378.14,511.33 L1375.75,518.5 L1370.98,523.28 L1366.99,528.06 L1365.4,535.23 L1363.01,530.45 L1361.42,521.68 L1358.23,512.92Z" fill="#d3d3d3" />
<path d="M1446.64,518.5 L1450.63,513.72 L1455.4,512.13 L1460.18,511.33 L1463.37,517.7 L1464.17,523.28 L1460.98,526.46 L1455.4,524.87 L1447.44,524.07Z" fill="#d3d3d3" />
<path d="M1439.47,504.96 L1444.25,505.75 L1449.03,508.94 L1447.44,511.33 L1442.66,511.33 L1439.47,508.94Z" fill="#d3d3d3" />
<path d="M1460.18,528.85 L1463.37,526.46 L1465.76,528.85 L1461.78,532.84Z" fill="#d3d3d3" />
<line x1="1349.7" y1="570.4" x2="1415.1" y2="570.4" stroke="#1e1e1e" stroke-width="1.6" />
<line x1="1375.4" y1="577.7" x2="1415.1" y2="577.7" stroke="#1e1e1e" stroke-width="1.6" />
<line x1="1353.1" y1="585" x2="1415.1" y2="585" stroke="#1e1e1e" stroke-width="1.6" />
<line x1="1396.2" y1="592.2" x2="1415.1" y2="592.2" stroke="#1e1e1e" stroke-width="1.6" />
<line x1="1344" y1="599.5" x2="1415.1" y2="599.5" stroke="#1e1e1e" stroke-width="1.6" />
<line x1="1356.2" y1="606.7" x2="1415.1" y2="606.7" stroke="#1e1e1e" stroke-width="1.6" />
<rect x="1445.7" y="578.2" width="15.6" height="15.3" fill="#1e1e1e" />
<rect x="1346.4" y="646.5" width="120.5" height="12" fill="none" stroke="#1e1e1e" stroke-width="1.5" />
<rect x="1427.9" y="648.3" width="37.1" height="8.5" fill="#1e1e1e" />
<path d="M1418,628.8 H1434.7 V640 H1429.6 L1426.3,643.3 L1423,640 H1418Z" fill="#1e1e1e" />
<rect x="1356.5" y="689.8" width="6.4" height="6" fill="#1e1e1e" />
<rect x="1356.5" y="700.3" width="6.4" height="6" fill="#1e1e1e" />
<rect x="1356.5" y="711" width="6.4" height="6" fill="#1e1e1e" />
<rect x="1366.2" y="689.8" width="13.6" height="6" fill="#1e1e1e" />
<rect x="1382.5" y="689.8" width="25.5" height="6" fill="#1e1e1e" />
<rect x="1366.2" y="700.3" width="22.3" height="6" fill="#1e1e1e" />
<rect x="1366.2" y="711" width="20.4" height="6" fill="#1e1e1e" />
<clipPath id="hb"><rect x="1426.4" y="677" width="54" height="58.7"/></clipPath>
<g clip-path="url(#hb)"><line x1="1354.4" y1="735.7" x2="1413.1" y2="677" stroke="#1e1e1e" stroke-width="1.3"/><line x1="1363.4" y1="735.7" x2="1422.1" y2="677" stroke="#1e1e1e" stroke-width="1.3"/><line x1="1372.4" y1="735.7" x2="1431.1" y2="677" stroke="#1e1e1e" stroke-width="1.3"/><line x1="1381.4" y1="735.7" x2="1440.1" y2="677" stroke="#1e1e1e" stroke-width="1.3"/><line x1="1390.4" y1="735.7" x2="1449.1" y2="677" stroke="#1e1e1e" stroke-width="1.3"/><line x1="1399.4" y1="735.7" x2="1458.1" y2="677" stroke="#1e1e1e" stroke-width="1.3"/><line x1="1408.4" y1="735.7" x2="1467.1" y2="677" stroke="#1e1e1e" stroke-width="1.3"/><line x1="1417.4" y1="735.7" x2="1476.1" y2="677" stroke="#1e1e1e" stroke-width="1.3"/><line x1="1426.4" y1="735.7" x2="1485.1" y2="677" stroke="#1e1e1e" stroke-width="1.3"/><line x1="1435.4" y1="735.7" x2="1494.1" y2="677" stroke="#1e1e1e" stroke-width="1.3"/><line x1="1444.4" y1="735.7" x2="1503.1" y2="677" stroke="#1e1e1e" stroke-width="1.3"/><line x1="1453.4" y1="735.7" x2="1512.1" y2="677" stroke="#1e1e1e" stroke-width="1.3"/><line x1="1462.4" y1="735.7" x2="1521.1" y2="677" stroke="#1e1e1e" stroke-width="1.3"/><line x1="1471.4" y1="735.7" x2="1530.1" y2="677" stroke="#1e1e1e" stroke-width="1.3"/><line x1="1480.4" y1="735.7" x2="1539.1" y2="677" stroke="#1e1e1e" stroke-width="1.3"/><line x1="1489.4" y1="735.7" x2="1548.1" y2="677" stroke="#1e1e1e" stroke-width="1.3"/><line x1="1498.4" y1="735.7" x2="1557.1" y2="677" stroke="#1e1e1e" stroke-width="1.3"/><line x1="1507.4" y1="735.7" x2="1566.1" y2="677" stroke="#1e1e1e" stroke-width="1.3"/><line x1="1516.4" y1="735.7" x2="1575.1" y2="677" stroke="#1e1e1e" stroke-width="1.3"/><line x1="1525.4" y1="735.7" x2="1584.1" y2="677" stroke="#1e1e1e" stroke-width="1.3"/><line x1="1534.4" y1="735.7" x2="1593.1" y2="677" stroke="#1e1e1e" stroke-width="1.3"/><line x1="1543.4" y1="735.7" x2="1602.1" y2="677" stroke="#1e1e1e" stroke-width="1.3"/></g>
<rect x="1342.5" y="760.8" width="21.1" height="20.5" fill="none" stroke="#1e1e1e" stroke-width="1.5" />
<rect x="1371.5" y="760.8" width="20.8" height="20.5" fill="none" stroke="#1e1e1e" stroke-width="1.5" />
<rect x="1400.2" y="760.8" width="20.8" height="20.5" fill="none" stroke="#1e1e1e" stroke-width="1.5" />
<rect x="1429.2" y="760.8" width="20.7" height="20.5" fill="none" stroke="#1e1e1e" stroke-width="1.5" />
<rect x="1458.4" y="760.8" width="20.6" height="20.5" fill="none" stroke="#1e1e1e" stroke-width="1.5" />
<line x1="1304.9" y1="869.66" x2="1304.9" y2="903" stroke="#1e1e1e" stroke-width="1.6" />
<line x1="1311.97" y1="851.63" x2="1311.97" y2="903" stroke="#1e1e1e" stroke-width="1.6" />
<line x1="1319.03" y1="860.23" x2="1319.03" y2="903" stroke="#1e1e1e" stroke-width="1.6" />
<line x1="1326.1" y1="835.67" x2="1326.1" y2="903" stroke="#1e1e1e" stroke-width="1.6" />
<line x1="1333.17" y1="827.76" x2="1333.17" y2="903" stroke="#1e1e1e" stroke-width="1.6" />
<line x1="1340.24" y1="846.08" x2="1340.24" y2="903" stroke="#1e1e1e" stroke-width="1.6" />
<line x1="1347.3" y1="835.67" x2="1347.3" y2="903" stroke="#1e1e1e" stroke-width="1.6" />
<line x1="1354.37" y1="869.66" x2="1354.37" y2="903" stroke="#1e1e1e" stroke-width="1.6" />
<line x1="1361.44" y1="874.52" x2="1361.44" y2="903" stroke="#1e1e1e" stroke-width="1.6" />
<line x1="1368.5" y1="886.31" x2="1368.5" y2="903" stroke="#1e1e1e" stroke-width="1.6" />
<line x1="1375.57" y1="878.68" x2="1375.57" y2="903" stroke="#1e1e1e" stroke-width="1.6" />
<line x1="1382.64" y1="856.48" x2="1382.64" y2="903" stroke="#1e1e1e" stroke-width="1.6" />
<line x1="1389.7" y1="866.2" x2="1389.7" y2="903" stroke="#1e1e1e" stroke-width="1.6" />
<line x1="1396.77" y1="884.93" x2="1396.77" y2="903" stroke="#1e1e1e" stroke-width="1.6" />
<line x1="1403.84" y1="880.76" x2="1403.84" y2="903" stroke="#1e1e1e" stroke-width="1.6" />
<line x1="1410.91" y1="857.87" x2="1410.91" y2="903" stroke="#1e1e1e" stroke-width="1.6" />
<line x1="1417.97" y1="830.12" x2="1417.97" y2="903" stroke="#1e1e1e" stroke-width="1.6" />
<line x1="1425.04" y1="841.64" x2="1425.04" y2="903" stroke="#1e1e1e" stroke-width="1.6" />
<line x1="1432.11" y1="869.66" x2="1432.11" y2="903" stroke="#1e1e1e" stroke-width="1.6" />
<line x1="1439.17" y1="862.45" x2="1439.17" y2="903" stroke="#1e1e1e" stroke-width="1.6" />
<line x1="1446.24" y1="874.52" x2="1446.24" y2="903" stroke="#1e1e1e" stroke-width="1.6" />
<line x1="1453.31" y1="869.66" x2="1453.31" y2="903" stroke="#1e1e1e" stroke-width="1.6" />
<line x1="1460.37" y1="853.29" x2="1460.37" y2="903" stroke="#1e1e1e" stroke-width="1.6" />
<line x1="1467.44" y1="874.52" x2="1467.44" y2="903" stroke="#1e1e1e" stroke-width="1.6" />
<line x1="1474.51" y1="862.45" x2="1474.51" y2="903" stroke="#1e1e1e" stroke-width="1.6" />
<line x1="1300" y1="909.6" x2="1480.5" y2="909.6" stroke="#1e1e1e" stroke-width="1.8" />
<circle cx="1300" cy="909.6" r="2.9" fill="#1e1e1e" />
<circle cx="1480.5" cy="909.6" r="2.9" fill="#1e1e1e" />
<rect x="1512.5" y="378.2" width="137.7" height="98.3" fill="none" stroke="#8a8a8a" stroke-width="1.1" />
<clipPath id="hg"><path d="M1587.5,394 L1603.5,378.2 H1650.2 V394Z"/></clipPath>
<g clip-path="url(#hg)"><line x1="1560" y1="394" x2="1576" y2="378" stroke="#555" stroke-width="0.8"/><line x1="1563.6" y1="394" x2="1579.6" y2="378" stroke="#555" stroke-width="0.8"/><line x1="1567.2" y1="394" x2="1583.2" y2="378" stroke="#555" stroke-width="0.8"/><line x1="1570.8" y1="394" x2="1586.8" y2="378" stroke="#555" stroke-width="0.8"/><line x1="1574.4" y1="394" x2="1590.4" y2="378" stroke="#555" stroke-width="0.8"/><line x1="1578" y1="394" x2="1594" y2="378" stroke="#555" stroke-width="0.8"/><line x1="1581.6" y1="394" x2="1597.6" y2="378" stroke="#555" stroke-width="0.8"/><line x1="1585.2" y1="394" x2="1601.2" y2="378" stroke="#555" stroke-width="0.8"/><line x1="1588.8" y1="394" x2="1604.8" y2="378" stroke="#555" stroke-width="0.8"/><line x1="1592.4" y1="394" x2="1608.4" y2="378" stroke="#555" stroke-width="0.8"/><line x1="1596" y1="394" x2="1612" y2="378" stroke="#555" stroke-width="0.8"/><line x1="1599.6" y1="394" x2="1615.6" y2="378" stroke="#555" stroke-width="0.8"/><line x1="1603.2" y1="394" x2="1619.2" y2="378" stroke="#555" stroke-width="0.8"/><line x1="1606.8" y1="394" x2="1622.8" y2="378" stroke="#555" stroke-width="0.8"/><line x1="1610.4" y1="394" x2="1626.4" y2="378" stroke="#555" stroke-width="0.8"/><line x1="1614" y1="394" x2="1630" y2="378" stroke="#555" stroke-width="0.8"/><line x1="1617.6" y1="394" x2="1633.6" y2="378" stroke="#555" stroke-width="0.8"/><line x1="1621.2" y1="394" x2="1637.2" y2="378" stroke="#555" stroke-width="0.8"/><line x1="1624.8" y1="394" x2="1640.8" y2="378" stroke="#555" stroke-width="0.8"/><line x1="1628.4" y1="394" x2="1644.4" y2="378" stroke="#555" stroke-width="0.8"/><line x1="1632" y1="394" x2="1648" y2="378" stroke="#555" stroke-width="0.8"/><line x1="1635.6" y1="394" x2="1651.6" y2="378" stroke="#555" stroke-width="0.8"/><line x1="1639.2" y1="394" x2="1655.2" y2="378" stroke="#555" stroke-width="0.8"/><line x1="1642.8" y1="394" x2="1658.8" y2="378" stroke="#555" stroke-width="0.8"/><line x1="1646.4" y1="394" x2="1662.4" y2="378" stroke="#555" stroke-width="0.8"/><line x1="1650" y1="394" x2="1666" y2="378" stroke="#555" stroke-width="0.8"/><line x1="1653.6" y1="394" x2="1669.6" y2="378" stroke="#555" stroke-width="0.8"/><line x1="1657.2" y1="394" x2="1673.2" y2="378" stroke="#555" stroke-width="0.8"/><line x1="1660.8" y1="394" x2="1676.8" y2="378" stroke="#555" stroke-width="0.8"/><line x1="1664.4" y1="394" x2="1680.4" y2="378" stroke="#555" stroke-width="0.8"/></g>
<line x1="1513" y1="395.4" x2="1650" y2="395.4" stroke="#1e1e1e" stroke-width="2.8" />
<line x1="1512.5" y1="404.6" x2="1650.2" y2="404.6" stroke="#7a7a7a" stroke-width="1" />
<line x1="1512.5" y1="417.5" x2="1650.2" y2="417.5" stroke="#7a7a7a" stroke-width="1" />
<line x1="1512.5" y1="430.5" x2="1650.2" y2="430.5" stroke="#7a7a7a" stroke-width="1" />
<line x1="1512.5" y1="443.6" x2="1650.2" y2="443.6" stroke="#7a7a7a" stroke-width="1" />
<line x1="1512.5" y1="456.8" x2="1650.2" y2="456.8" stroke="#7a7a7a" stroke-width="1" />
<line x1="1512.5" y1="469.6" x2="1650.2" y2="469.6" stroke="#7a7a7a" stroke-width="1" />
<line x1="1526.3" y1="404.6" x2="1526.3" y2="469.6" stroke="#7a7a7a" stroke-width="1" />
<line x1="1542.2" y1="404.6" x2="1542.2" y2="469.6" stroke="#7a7a7a" stroke-width="1" />
<line x1="1557.4" y1="404.6" x2="1557.4" y2="469.6" stroke="#7a7a7a" stroke-width="1" />
<line x1="1573" y1="404.6" x2="1573" y2="469.6" stroke="#7a7a7a" stroke-width="1" />
<line x1="1588.5" y1="404.6" x2="1588.5" y2="469.6" stroke="#7a7a7a" stroke-width="1" />
<line x1="1604.2" y1="404.6" x2="1604.2" y2="469.6" stroke="#7a7a7a" stroke-width="1" />
<line x1="1619.6" y1="404.6" x2="1619.6" y2="469.6" stroke="#7a7a7a" stroke-width="1" />
<line x1="1634.9" y1="404.6" x2="1634.9" y2="469.6" stroke="#7a7a7a" stroke-width="1" />
<path d="M1512.5,456.8 L1542.2,417.5 L1557.4,456.8 L1588.5,417.5 L1618.3,443.9 L1634.9,430.5 L1650.2,455.4" fill="none" stroke="#333" stroke-width="1" />
<circle cx="1542.2" cy="417.5" r="1.9" fill="#1e1e1e" />
<circle cx="1557.4" cy="456.8" r="1.9" fill="#1e1e1e" />
<circle cx="1588.5" cy="417.5" r="1.9" fill="#1e1e1e" />
<circle cx="1618.3" cy="443.9" r="1.9" fill="#1e1e1e" />
<circle cx="1634.9" cy="430.5" r="1.9" fill="#1e1e1e" />
<rect x="1512.5" y="490.5" width="139.2" height="16" fill="none" stroke="#8a8a8a" stroke-width="1.1" />
<rect x="1515.3" y="493" width="134.2" height="11.5" fill="none" stroke="#666" stroke-width="1" />
<clipPath id="hh"><rect x="1515.3" y="493" width="134.2" height="11.5"/></clipPath>
<g clip-path="url(#hh)"><line x1="1505" y1="504.5" x2="1516.5" y2="493" stroke="#555" stroke-width="0.9"/><line x1="1510.1" y1="504.5" x2="1521.6" y2="493" stroke="#555" stroke-width="0.9"/><line x1="1515.2" y1="504.5" x2="1526.7" y2="493" stroke="#555" stroke-width="0.9"/><line x1="1520.3" y1="504.5" x2="1531.8" y2="493" stroke="#555" stroke-width="0.9"/><line x1="1525.4" y1="504.5" x2="1536.9" y2="493" stroke="#555" stroke-width="0.9"/><line x1="1530.5" y1="504.5" x2="1542" y2="493" stroke="#555" stroke-width="0.9"/><line x1="1535.6" y1="504.5" x2="1547.1" y2="493" stroke="#555" stroke-width="0.9"/><line x1="1540.7" y1="504.5" x2="1552.2" y2="493" stroke="#555" stroke-width="0.9"/><line x1="1545.8" y1="504.5" x2="1557.3" y2="493" stroke="#555" stroke-width="0.9"/><line x1="1550.9" y1="504.5" x2="1562.4" y2="493" stroke="#555" stroke-width="0.9"/><line x1="1556" y1="504.5" x2="1567.5" y2="493" stroke="#555" stroke-width="0.9"/><line x1="1561.1" y1="504.5" x2="1572.6" y2="493" stroke="#555" stroke-width="0.9"/><line x1="1566.2" y1="504.5" x2="1577.7" y2="493" stroke="#555" stroke-width="0.9"/><line x1="1571.3" y1="504.5" x2="1582.8" y2="493" stroke="#555" stroke-width="0.9"/><line x1="1576.4" y1="504.5" x2="1587.9" y2="493" stroke="#555" stroke-width="0.9"/><line x1="1581.5" y1="504.5" x2="1593" y2="493" stroke="#555" stroke-width="0.9"/><line x1="1586.6" y1="504.5" x2="1598.1" y2="493" stroke="#555" stroke-width="0.9"/><line x1="1591.7" y1="504.5" x2="1603.2" y2="493" stroke="#555" stroke-width="0.9"/><line x1="1596.8" y1="504.5" x2="1608.3" y2="493" stroke="#555" stroke-width="0.9"/><line x1="1601.9" y1="504.5" x2="1613.4" y2="493" stroke="#555" stroke-width="0.9"/><line x1="1607" y1="504.5" x2="1618.5" y2="493" stroke="#555" stroke-width="0.9"/><line x1="1612.1" y1="504.5" x2="1623.6" y2="493" stroke="#555" stroke-width="0.9"/><line x1="1617.2" y1="504.5" x2="1628.7" y2="493" stroke="#555" stroke-width="0.9"/><line x1="1622.3" y1="504.5" x2="1633.8" y2="493" stroke="#555" stroke-width="0.9"/><line x1="1627.4" y1="504.5" x2="1638.9" y2="493" stroke="#555" stroke-width="0.9"/><line x1="1632.5" y1="504.5" x2="1644" y2="493" stroke="#555" stroke-width="0.9"/><line x1="1637.6" y1="504.5" x2="1649.1" y2="493" stroke="#555" stroke-width="0.9"/><line x1="1642.7" y1="504.5" x2="1654.2" y2="493" stroke="#555" stroke-width="0.9"/><line x1="1647.8" y1="504.5" x2="1659.3" y2="493" stroke="#555" stroke-width="0.9"/><line x1="1652.9" y1="504.5" x2="1664.4" y2="493" stroke="#555" stroke-width="0.9"/></g>
<rect x="1514.6" y="519.1" width="6.3" height="17" fill="none" stroke="#333" stroke-width="1.2" />
<rect x="1524.1" y="519.1" width="6.3" height="17" fill="none" stroke="#333" stroke-width="1.2" />
<rect x="1534.1" y="519.1" width="5.8" height="17" fill="none" stroke="#dcdcdc" stroke-width="1.2" />
<rect x="1543.6" y="519.1" width="5.8" height="17" fill="none" stroke="#dcdcdc" stroke-width="1.2" />
<rect x="1553" y="519.1" width="5.9" height="17" fill="none" stroke="#dcdcdc" stroke-width="1.2" />
<rect x="1562.6" y="523.1" width="1.8" height="1.8" fill="#1e1e1e" />
<rect x="1566.45" y="523.1" width="1.8" height="1.8" fill="#1e1e1e" />
<rect x="1570.3" y="523.1" width="1.8" height="1.8" fill="#1e1e1e" />
<rect x="1574.15" y="523.1" width="1.8" height="1.8" fill="#1e1e1e" />
<rect x="1578" y="523.1" width="1.8" height="1.8" fill="#1e1e1e" />
<rect x="1585.7" y="523.1" width="1.8" height="1.8" fill="#1e1e1e" />
<rect x="1601.1" y="523.1" width="1.8" height="1.8" fill="#d8d8d8" />
<rect x="1604.95" y="523.1" width="1.8" height="1.8" fill="#d8d8d8" />
<rect x="1608.8" y="523.1" width="1.8" height="1.8" fill="#d8d8d8" />
<rect x="1612.65" y="523.1" width="1.8" height="1.8" fill="#d8d8d8" />
<rect x="1616.5" y="523.1" width="1.8" height="1.8" fill="#d8d8d8" />
<rect x="1624.2" y="523.1" width="1.8" height="1.8" fill="#1e1e1e" />
<rect x="1639.6" y="523.1" width="1.8" height="1.8" fill="#1e1e1e" />
<rect x="1562.6" y="527.6" width="1.8" height="1.8" fill="#1e1e1e" />
<rect x="1566.45" y="527.6" width="1.8" height="1.8" fill="#1e1e1e" />
<rect x="1574.15" y="527.6" width="1.8" height="1.8" fill="#1e1e1e" />
<rect x="1578" y="527.6" width="1.8" height="1.8" fill="#1e1e1e" />
<rect x="1581.85" y="527.6" width="1.8" height="1.8" fill="#1e1e1e" />
<rect x="1585.7" y="527.6" width="1.8" height="1.8" fill="#1e1e1e" />
<rect x="1589.55" y="527.6" width="1.8" height="1.8" fill="#1e1e1e" />
<rect x="1597.25" y="527.6" width="1.8" height="1.8" fill="#1e1e1e" />
<rect x="1604.95" y="527.6" width="1.8" height="1.8" fill="#d8d8d8" />
<rect x="1608.8" y="527.6" width="1.8" height="1.8" fill="#d8d8d8" />
<rect x="1616.5" y="527.6" width="1.8" height="1.8" fill="#d8d8d8" />
<rect x="1620.35" y="527.6" width="1.8" height="1.8" fill="#d8d8d8" />
<rect x="1624.2" y="527.6" width="1.8" height="1.8" fill="#d8d8d8" />
<rect x="1628.05" y="527.6" width="1.8" height="1.8" fill="#1e1e1e" />
<rect x="1635.75" y="527.6" width="1.8" height="1.8" fill="#1e1e1e" />
<rect x="1639.6" y="527.6" width="1.8" height="1.8" fill="#1e1e1e" />
<rect x="1643.45" y="527.6" width="1.8" height="1.8" fill="#1e1e1e" />
<rect x="1651.15" y="527.6" width="1.8" height="1.8" fill="#1e1e1e" />
<rect x="1655" y="527.6" width="1.8" height="1.8" fill="#1e1e1e" />
<rect x="1562.6" y="532.1" width="1.8" height="1.8" fill="#1e1e1e" />
<rect x="1566.45" y="532.1" width="1.8" height="1.8" fill="#1e1e1e" />
<rect x="1570.3" y="532.1" width="1.8" height="1.8" fill="#1e1e1e" />
<rect x="1574.15" y="532.1" width="1.8" height="1.8" fill="#1e1e1e" />
<rect x="1581.85" y="532.1" width="1.8" height="1.8" fill="#1e1e1e" />
<rect x="1585.7" y="532.1" width="1.8" height="1.8" fill="#1e1e1e" />
<rect x="1589.55" y="532.1" width="1.8" height="1.8" fill="#1e1e1e" />
<rect x="1597.25" y="532.1" width="1.8" height="1.8" fill="#1e1e1e" />
<rect x="1604.95" y="532.1" width="1.8" height="1.8" fill="#1e1e1e" />
<rect x="1608.8" y="532.1" width="1.8" height="1.8" fill="#1e1e1e" />
<rect x="1612.65" y="532.1" width="1.8" height="1.8" fill="#1e1e1e" />
<rect x="1616.5" y="532.1" width="1.8" height="1.8" fill="#1e1e1e" />
<rect x="1624.2" y="532.1" width="1.8" height="1.8" fill="#1e1e1e" />
<rect x="1628.05" y="532.1" width="1.8" height="1.8" fill="#1e1e1e" />
<rect x="1631.9" y="532.1" width="1.8" height="1.8" fill="#1e1e1e" />
<rect x="1639.6" y="532.1" width="1.8" height="1.8" fill="#1e1e1e" />
<rect x="1643.45" y="532.1" width="1.8" height="1.8" fill="#1e1e1e" />
<rect x="1647.3" y="532.1" width="1.8" height="1.8" fill="#1e1e1e" />
<rect x="1655" y="532.1" width="1.8" height="1.8" fill="#1e1e1e" />
<ellipse cx="1618.15" cy="571.25" rx="1.6" ry="2.55" fill="none" stroke="#505050" stroke-width="1.05"/>
<ellipse cx="1623.07" cy="570.3" rx="1.6" ry="1.6" fill="none" stroke="#505050" stroke-width="1.05"/>
<path d="M1624.67,570.4 Q1624.72,573.3 1622.32,573.8" fill="none" stroke="#505050" stroke-width="1.05" />
<ellipse cx="1627.99" cy="570.3" rx="1.6" ry="1.6" fill="none" stroke="#505050" stroke-width="1.05"/>
<path d="M1629.59,570.4 Q1629.64,573.3 1627.24,573.8" fill="none" stroke="#505050" stroke-width="1.05" />
<ellipse cx="1632.91" cy="570.3" rx="1.6" ry="1.6" fill="none" stroke="#505050" stroke-width="1.05"/>
<path d="M1634.51,570.4 Q1634.56,573.3 1632.16,573.8" fill="none" stroke="#505050" stroke-width="1.05" />
<ellipse cx="1637.83" cy="571.25" rx="1.6" ry="2.55" fill="none" stroke="#505050" stroke-width="1.05"/>
<ellipse cx="1642.75" cy="571.25" rx="1.6" ry="2.55" fill="none" stroke="#505050" stroke-width="1.05"/>
<ellipse cx="1647.67" cy="571.25" rx="1.6" ry="2.55" fill="none" stroke="#505050" stroke-width="1.05"/>
<ellipse cx="1618.15" cy="660.25" rx="1.6" ry="2.55" fill="none" stroke="#505050" stroke-width="1.05"/>
<ellipse cx="1623.07" cy="659.3" rx="1.6" ry="1.6" fill="none" stroke="#505050" stroke-width="1.05"/>
<path d="M1624.67,659.4 Q1624.72,662.3 1622.32,662.8" fill="none" stroke="#505050" stroke-width="1.05" />
<ellipse cx="1627.99" cy="659.3" rx="1.6" ry="1.6" fill="none" stroke="#505050" stroke-width="1.05"/>
<path d="M1629.59,659.4 Q1629.64,662.3 1627.24,662.8" fill="none" stroke="#505050" stroke-width="1.05" />
<ellipse cx="1632.91" cy="659.3" rx="1.6" ry="1.6" fill="none" stroke="#505050" stroke-width="1.05"/>
<path d="M1634.51,659.4 Q1634.56,662.3 1632.16,662.8" fill="none" stroke="#505050" stroke-width="1.05" />
<ellipse cx="1637.83" cy="660.25" rx="1.6" ry="2.55" fill="none" stroke="#505050" stroke-width="1.05"/>
<ellipse cx="1642.75" cy="660.25" rx="1.6" ry="2.55" fill="none" stroke="#505050" stroke-width="1.05"/>
<ellipse cx="1647.67" cy="660.25" rx="1.6" ry="2.55" fill="none" stroke="#505050" stroke-width="1.05"/>
<rect x="1533.85" y="632.55" width="3.1" height="3.1" fill="#d6d6d6" />
<rect x="1533.85" y="628.36" width="3.1" height="3.1" fill="#d6d6d6" />
<rect x="1533.85" y="624.17" width="3.1" height="3.1" fill="#d6d6d6" />
<rect x="1533.85" y="619.98" width="3.1" height="3.1" fill="#d6d6d6" />
<rect x="1533.85" y="615.79" width="3.1" height="3.1" fill="#d6d6d6" />
<rect x="1533.85" y="611.6" width="3.1" height="3.1" fill="#d6d6d6" />
<rect x="1533.85" y="607.41" width="3.1" height="3.1" fill="#d6d6d6" />
<rect x="1533.85" y="603.22" width="3.1" height="3.1" fill="#d6d6d6" />
<rect x="1533.85" y="599.03" width="3.1" height="3.1" fill="#d6d6d6" />
<rect x="1533.85" y="594.84" width="3.1" height="3.1" fill="#d6d6d6" />
<rect x="1533.85" y="590.65" width="3.1" height="3.1" fill="#d6d6d6" />
<rect x="1533.85" y="586.46" width="3.1" height="3.1" fill="#d6d6d6" />
<rect x="1533.85" y="582.27" width="3.1" height="3.1" fill="#d6d6d6" />
<rect x="1538.25" y="632.55" width="3.1" height="3.1" fill="#d6d6d6" />
<rect x="1538.25" y="628.36" width="3.1" height="3.1" fill="#d6d6d6" />
<rect x="1538.25" y="624.17" width="3.1" height="3.1" fill="#d6d6d6" />
<rect x="1538.25" y="619.98" width="3.1" height="3.1" fill="#d6d6d6" />
<rect x="1538.25" y="615.79" width="3.1" height="3.1" fill="#d6d6d6" />
<rect x="1538.25" y="611.6" width="3.1" height="3.1" fill="#d6d6d6" />
<rect x="1538.25" y="607.41" width="3.1" height="3.1" fill="#d6d6d6" />
<rect x="1538.25" y="603.22" width="3.1" height="3.1" fill="#d6d6d6" />
<rect x="1538.25" y="599.03" width="3.1" height="3.1" fill="#d6d6d6" />
<rect x="1538.25" y="594.84" width="3.1" height="3.1" fill="#d6d6d6" />
<rect x="1538.25" y="590.65" width="3.1" height="3.1" fill="#d6d6d6" />
<rect x="1542.65" y="632.55" width="3.1" height="3.1" fill="#d6d6d6" />
<rect x="1542.65" y="628.36" width="3.1" height="3.1" fill="#d6d6d6" />
<rect x="1542.65" y="624.17" width="3.1" height="3.1" fill="#d6d6d6" />
<rect x="1542.65" y="619.98" width="3.1" height="3.1" fill="#d6d6d6" />
<rect x="1542.65" y="615.79" width="3.1" height="3.1" fill="#d6d6d6" />
<rect x="1542.65" y="611.6" width="3.1" height="3.1" fill="#d6d6d6" />
<rect x="1542.65" y="607.41" width="3.1" height="3.1" fill="#d6d6d6" />
<rect x="1542.65" y="603.22" width="3.1" height="3.1" fill="#d6d6d6" />
<rect x="1542.65" y="599.03" width="3.1" height="3.1" fill="#d6d6d6" />
<rect x="1542.65" y="594.84" width="3.1" height="3.1" fill="#d6d6d6" />
<rect x="1542.65" y="590.65" width="3.1" height="3.1" fill="#d6d6d6" />
<rect x="1542.65" y="586.46" width="3.1" height="3.1" fill="#d6d6d6" />
<rect x="1547.05" y="632.55" width="3.1" height="3.1" fill="#d6d6d6" />
<rect x="1547.05" y="628.36" width="3.1" height="3.1" fill="#d6d6d6" />
<rect x="1547.05" y="624.17" width="3.1" height="3.1" fill="#d6d6d6" />
<rect x="1547.05" y="619.98" width="3.1" height="3.1" fill="#d6d6d6" />
<rect x="1547.05" y="615.79" width="3.1" height="3.1" fill="#d6d6d6" />
<rect x="1547.05" y="611.6" width="3.1" height="3.1" fill="#d6d6d6" />
<rect x="1547.05" y="607.41" width="3.1" height="3.1" fill="#d6d6d6" />
<rect x="1547.05" y="603.22" width="3.1" height="3.1" fill="#d6d6d6" />
<rect x="1547.05" y="599.03" width="3.1" height="3.1" fill="#d6d6d6" />
<rect x="1551.45" y="632.55" width="3.1" height="3.1" fill="#d6d6d6" />
<rect x="1551.45" y="628.36" width="3.1" height="3.1" fill="#d6d6d6" />
<rect x="1551.45" y="624.17" width="3.1" height="3.1" fill="#d6d6d6" />
<rect x="1551.45" y="619.98" width="3.1" height="3.1" fill="#d6d6d6" />
<rect x="1551.45" y="615.79" width="3.1" height="3.1" fill="#d6d6d6" />
<rect x="1551.45" y="611.6" width="3.1" height="3.1" fill="#d6d6d6" />
<rect x="1551.45" y="607.41" width="3.1" height="3.1" fill="#d6d6d6" />
<rect x="1551.45" y="603.22" width="3.1" height="3.1" fill="#d6d6d6" />
<rect x="1551.45" y="599.03" width="3.1" height="3.1" fill="#d6d6d6" />
<rect x="1551.45" y="594.84" width="3.1" height="3.1" fill="#d6d6d6" />
<rect x="1555.85" y="632.55" width="3.1" height="3.1" fill="#d6d6d6" />
<rect x="1555.85" y="628.36" width="3.1" height="3.1" fill="#d6d6d6" />
<rect x="1555.85" y="624.17" width="3.1" height="3.1" fill="#d6d6d6" />
<rect x="1555.85" y="619.98" width="3.1" height="3.1" fill="#d6d6d6" />
<rect x="1555.85" y="615.79" width="3.1" height="3.1" fill="#d6d6d6" />
<rect x="1555.85" y="611.6" width="3.1" height="3.1" fill="#d6d6d6" />
<rect x="1555.85" y="607.41" width="3.1" height="3.1" fill="#d6d6d6" />
<rect x="1555.85" y="603.22" width="3.1" height="3.1" fill="#d6d6d6" />
<rect x="1555.85" y="599.03" width="3.1" height="3.1" fill="#d6d6d6" />
<rect x="1555.85" y="594.84" width="3.1" height="3.1" fill="#d6d6d6" />
<rect x="1555.85" y="590.65" width="3.1" height="3.1" fill="#d6d6d6" />
<rect x="1560.25" y="632.55" width="3.1" height="3.1" fill="#d6d6d6" />
<rect x="1560.25" y="628.36" width="3.1" height="3.1" fill="#d6d6d6" />
<rect x="1560.25" y="624.17" width="3.1" height="3.1" fill="#d6d6d6" />
<rect x="1560.25" y="619.98" width="3.1" height="3.1" fill="#d6d6d6" />
<rect x="1560.25" y="615.79" width="3.1" height="3.1" fill="#d6d6d6" />
<rect x="1560.25" y="611.6" width="3.1" height="3.1" fill="#d6d6d6" />
<rect x="1560.25" y="607.41" width="3.1" height="3.1" fill="#d6d6d6" />
<rect x="1560.25" y="603.22" width="3.1" height="3.1" fill="#d6d6d6" />
<rect x="1560.25" y="599.03" width="3.1" height="3.1" fill="#d6d6d6" />
<rect x="1560.25" y="594.84" width="3.1" height="3.1" fill="#d6d6d6" />
<rect x="1564.65" y="632.55" width="3.1" height="3.1" fill="#d6d6d6" />
<rect x="1564.65" y="628.36" width="3.1" height="3.1" fill="#d6d6d6" />
<rect x="1564.65" y="624.17" width="3.1" height="3.1" fill="#d6d6d6" />
<rect x="1564.65" y="619.98" width="3.1" height="3.1" fill="#d6d6d6" />
<rect x="1564.65" y="615.79" width="3.1" height="3.1" fill="#d6d6d6" />
<rect x="1564.65" y="611.6" width="3.1" height="3.1" fill="#d6d6d6" />
<rect x="1564.65" y="607.41" width="3.1" height="3.1" fill="#d6d6d6" />
<rect x="1564.65" y="603.22" width="3.1" height="3.1" fill="#d6d6d6" />
<rect x="1564.65" y="599.03" width="3.1" height="3.1" fill="#d6d6d6" />
<rect x="1564.65" y="594.84" width="3.1" height="3.1" fill="#d6d6d6" />
<rect x="1564.65" y="590.65" width="3.1" height="3.1" fill="#d6d6d6" />
<rect x="1569.05" y="632.55" width="3.1" height="3.1" fill="#d6d6d6" />
<rect x="1569.05" y="628.36" width="3.1" height="3.1" fill="#d6d6d6" />
<rect x="1569.05" y="624.17" width="3.1" height="3.1" fill="#d6d6d6" />
<rect x="1569.05" y="619.98" width="3.1" height="3.1" fill="#d6d6d6" />
<rect x="1569.05" y="615.79" width="3.1" height="3.1" fill="#d6d6d6" />
<rect x="1569.05" y="611.6" width="3.1" height="3.1" fill="#d6d6d6" />
<rect x="1569.05" y="607.41" width="3.1" height="3.1" fill="#d6d6d6" />
<rect x="1569.05" y="603.22" width="3.1" height="3.1" fill="#d6d6d6" />
<rect x="1569.05" y="599.03" width="3.1" height="3.1" fill="#d6d6d6" />
<rect x="1569.05" y="594.84" width="3.1" height="3.1" fill="#d6d6d6" />
<rect x="1569.05" y="590.65" width="3.1" height="3.1" fill="#d6d6d6" />
<rect x="1569.05" y="586.46" width="3.1" height="3.1" fill="#d6d6d6" />
<rect x="1573.45" y="632.55" width="3.1" height="3.1" fill="#d6d6d6" />
<rect x="1573.45" y="628.36" width="3.1" height="3.1" fill="#d6d6d6" />
<rect x="1573.45" y="624.17" width="3.1" height="3.1" fill="#d6d6d6" />
<rect x="1573.45" y="619.98" width="3.1" height="3.1" fill="#d6d6d6" />
<rect x="1573.45" y="615.79" width="3.1" height="3.1" fill="#d6d6d6" />
<rect x="1573.45" y="611.6" width="3.1" height="3.1" fill="#d6d6d6" />
<rect x="1573.45" y="607.41" width="3.1" height="3.1" fill="#d6d6d6" />
<rect x="1573.45" y="603.22" width="3.1" height="3.1" fill="#d6d6d6" />
<rect x="1577.85" y="632.55" width="3.1" height="3.1" fill="#d6d6d6" />
<rect x="1577.85" y="628.36" width="3.1" height="3.1" fill="#d6d6d6" />
<rect x="1577.85" y="624.17" width="3.1" height="3.1" fill="#d6d6d6" />
<rect x="1577.85" y="619.98" width="3.1" height="3.1" fill="#d6d6d6" />
<rect x="1577.85" y="615.79" width="3.1" height="3.1" fill="#d6d6d6" />
<rect x="1577.85" y="611.6" width="3.1" height="3.1" fill="#d6d6d6" />
<rect x="1577.85" y="607.41" width="3.1" height="3.1" fill="#d6d6d6" />
<rect x="1577.85" y="603.22" width="3.1" height="3.1" fill="#d6d6d6" />
<rect x="1577.85" y="599.03" width="3.1" height="3.1" fill="#d6d6d6" />
<rect x="1582.25" y="632.55" width="3.1" height="3.1" fill="#d6d6d6" />
<rect x="1582.25" y="628.36" width="3.1" height="3.1" fill="#d6d6d6" />
<rect x="1582.25" y="624.17" width="3.1" height="3.1" fill="#d6d6d6" />
<rect x="1582.25" y="619.98" width="3.1" height="3.1" fill="#d6d6d6" />
<rect x="1582.25" y="615.79" width="3.1" height="3.1" fill="#d6d6d6" />
<rect x="1582.25" y="611.6" width="3.1" height="3.1" fill="#d6d6d6" />
<rect x="1582.25" y="607.41" width="3.1" height="3.1" fill="#d6d6d6" />
<rect x="1582.25" y="603.22" width="3.1" height="3.1" fill="#d6d6d6" />
<rect x="1582.25" y="599.03" width="3.1" height="3.1" fill="#d6d6d6" />
<rect x="1582.25" y="594.84" width="3.1" height="3.1" fill="#d6d6d6" />
<rect x="1582.25" y="590.65" width="3.1" height="3.1" fill="#d6d6d6" />
<rect x="1586.65" y="632.55" width="3.1" height="3.1" fill="#d6d6d6" />
<rect x="1586.65" y="628.36" width="3.1" height="3.1" fill="#d6d6d6" />
<rect x="1586.65" y="624.17" width="3.1" height="3.1" fill="#d6d6d6" />
<rect x="1586.65" y="619.98" width="3.1" height="3.1" fill="#d6d6d6" />
<rect x="1586.65" y="615.79" width="3.1" height="3.1" fill="#d6d6d6" />
<rect x="1586.65" y="611.6" width="3.1" height="3.1" fill="#d6d6d6" />
<rect x="1586.65" y="607.41" width="3.1" height="3.1" fill="#d6d6d6" />
<rect x="1586.65" y="603.22" width="3.1" height="3.1" fill="#d6d6d6" />
<rect x="1586.65" y="599.03" width="3.1" height="3.1" fill="#d6d6d6" />
<rect x="1586.65" y="594.84" width="3.1" height="3.1" fill="#d6d6d6" />
<rect x="1591.05" y="632.55" width="3.1" height="3.1" fill="#d6d6d6" />
<rect x="1591.05" y="628.36" width="3.1" height="3.1" fill="#d6d6d6" />
<rect x="1591.05" y="624.17" width="3.1" height="3.1" fill="#d6d6d6" />
<rect x="1591.05" y="619.98" width="3.1" height="3.1" fill="#d6d6d6" />
<rect x="1591.05" y="615.79" width="3.1" height="3.1" fill="#d6d6d6" />
<rect x="1591.05" y="611.6" width="3.1" height="3.1" fill="#d6d6d6" />
<rect x="1591.05" y="607.41" width="3.1" height="3.1" fill="#d6d6d6" />
<rect x="1591.05" y="603.22" width="3.1" height="3.1" fill="#d6d6d6" />
<rect x="1591.05" y="599.03" width="3.1" height="3.1" fill="#d6d6d6" />
<rect x="1595.45" y="632.55" width="3.1" height="3.1" fill="#d6d6d6" />
<rect x="1595.45" y="628.36" width="3.1" height="3.1" fill="#d6d6d6" />
<rect x="1595.45" y="624.17" width="3.1" height="3.1" fill="#d6d6d6" />
<rect x="1595.45" y="619.98" width="3.1" height="3.1" fill="#d6d6d6" />
<rect x="1595.45" y="615.79" width="3.1" height="3.1" fill="#d6d6d6" />
<rect x="1595.45" y="611.6" width="3.1" height="3.1" fill="#d6d6d6" />
<rect x="1595.45" y="607.41" width="3.1" height="3.1" fill="#d6d6d6" />
<rect x="1595.45" y="603.22" width="3.1" height="3.1" fill="#d6d6d6" />
<rect x="1595.45" y="599.03" width="3.1" height="3.1" fill="#d6d6d6" />
<rect x="1595.45" y="594.84" width="3.1" height="3.1" fill="#d6d6d6" />
<rect x="1595.45" y="590.65" width="3.1" height="3.1" fill="#d6d6d6" />
<rect x="1599.85" y="632.55" width="3.1" height="3.1" fill="#d6d6d6" />
<rect x="1599.85" y="628.36" width="3.1" height="3.1" fill="#d6d6d6" />
<rect x="1599.85" y="624.17" width="3.1" height="3.1" fill="#d6d6d6" />
<rect x="1599.85" y="619.98" width="3.1" height="3.1" fill="#d6d6d6" />
<rect x="1599.85" y="615.79" width="3.1" height="3.1" fill="#d6d6d6" />
<rect x="1599.85" y="611.6" width="3.1" height="3.1" fill="#d6d6d6" />
<rect x="1599.85" y="607.41" width="3.1" height="3.1" fill="#d6d6d6" />
<rect x="1599.85" y="603.22" width="3.1" height="3.1" fill="#d6d6d6" />
<rect x="1599.85" y="599.03" width="3.1" height="3.1" fill="#d6d6d6" />
<rect x="1599.85" y="594.84" width="3.1" height="3.1" fill="#d6d6d6" />
<rect x="1599.85" y="590.65" width="3.1" height="3.1" fill="#d6d6d6" />
<rect x="1599.85" y="586.46" width="3.1" height="3.1" fill="#d6d6d6" />
<rect x="1599.85" y="582.27" width="3.1" height="3.1" fill="#d6d6d6" />
<rect x="1604.25" y="632.55" width="3.1" height="3.1" fill="#d6d6d6" />
<rect x="1604.25" y="628.36" width="3.1" height="3.1" fill="#d6d6d6" />
<rect x="1604.25" y="624.17" width="3.1" height="3.1" fill="#d6d6d6" />
<rect x="1604.25" y="619.98" width="3.1" height="3.1" fill="#d6d6d6" />
<rect x="1604.25" y="615.79" width="3.1" height="3.1" fill="#d6d6d6" />
<rect x="1604.25" y="611.6" width="3.1" height="3.1" fill="#d6d6d6" />
<rect x="1604.25" y="607.41" width="3.1" height="3.1" fill="#d6d6d6" />
<rect x="1604.25" y="603.22" width="3.1" height="3.1" fill="#d6d6d6" />
<rect x="1604.25" y="599.03" width="3.1" height="3.1" fill="#d6d6d6" />
<rect x="1608.65" y="632.55" width="3.1" height="3.1" fill="#d6d6d6" />
<rect x="1608.65" y="628.36" width="3.1" height="3.1" fill="#d6d6d6" />
<rect x="1608.65" y="624.17" width="3.1" height="3.1" fill="#d6d6d6" />
<rect x="1608.65" y="619.98" width="3.1" height="3.1" fill="#d6d6d6" />
<rect x="1608.65" y="615.79" width="3.1" height="3.1" fill="#d6d6d6" />
<rect x="1608.65" y="611.6" width="3.1" height="3.1" fill="#d6d6d6" />
<rect x="1608.65" y="607.41" width="3.1" height="3.1" fill="#d6d6d6" />
<rect x="1608.65" y="603.22" width="3.1" height="3.1" fill="#d6d6d6" />
<rect x="1608.65" y="599.03" width="3.1" height="3.1" fill="#d6d6d6" />
<rect x="1608.65" y="594.84" width="3.1" height="3.1" fill="#d6d6d6" />
<rect x="1608.65" y="590.65" width="3.1" height="3.1" fill="#d6d6d6" />
<rect x="1613.05" y="632.55" width="3.1" height="3.1" fill="#d6d6d6" />
<rect x="1613.05" y="628.36" width="3.1" height="3.1" fill="#d6d6d6" />
<rect x="1613.05" y="624.17" width="3.1" height="3.1" fill="#d6d6d6" />
<rect x="1613.05" y="619.98" width="3.1" height="3.1" fill="#d6d6d6" />
<rect x="1613.05" y="615.79" width="3.1" height="3.1" fill="#d6d6d6" />
<rect x="1613.05" y="611.6" width="3.1" height="3.1" fill="#d6d6d6" />
<rect x="1613.05" y="607.41" width="3.1" height="3.1" fill="#d6d6d6" />
<rect x="1613.05" y="603.22" width="3.1" height="3.1" fill="#d6d6d6" />
<rect x="1613.05" y="599.03" width="3.1" height="3.1" fill="#d6d6d6" />
<rect x="1613.05" y="594.84" width="3.1" height="3.1" fill="#d6d6d6" />
<rect x="1613.05" y="590.65" width="3.1" height="3.1" fill="#d6d6d6" />
<rect x="1613.05" y="586.46" width="3.1" height="3.1" fill="#d6d6d6" />
<rect x="1617.45" y="632.55" width="3.1" height="3.1" fill="#d6d6d6" />
<rect x="1617.45" y="628.36" width="3.1" height="3.1" fill="#d6d6d6" />
<rect x="1617.45" y="624.17" width="3.1" height="3.1" fill="#d6d6d6" />
<rect x="1617.45" y="619.98" width="3.1" height="3.1" fill="#d6d6d6" />
<rect x="1617.45" y="615.79" width="3.1" height="3.1" fill="#d6d6d6" />
<rect x="1617.45" y="611.6" width="3.1" height="3.1" fill="#d6d6d6" />
<rect x="1617.45" y="607.41" width="3.1" height="3.1" fill="#d6d6d6" />
<rect x="1617.45" y="603.22" width="3.1" height="3.1" fill="#d6d6d6" />
<rect x="1617.45" y="599.03" width="3.1" height="3.1" fill="#d6d6d6" />
<rect x="1617.45" y="594.84" width="3.1" height="3.1" fill="#d6d6d6" />
<rect x="1617.45" y="590.65" width="3.1" height="3.1" fill="#d6d6d6" />
<rect x="1617.45" y="586.46" width="3.1" height="3.1" fill="#d6d6d6" />
<rect x="1617.45" y="582.27" width="3.1" height="3.1" fill="#d6d6d6" />
<rect x="1621.85" y="632.55" width="3.1" height="3.1" fill="#d6d6d6" />
<rect x="1621.85" y="628.36" width="3.1" height="3.1" fill="#d6d6d6" />
<rect x="1621.85" y="624.17" width="3.1" height="3.1" fill="#d6d6d6" />
<rect x="1621.85" y="619.98" width="3.1" height="3.1" fill="#d6d6d6" />
<rect x="1621.85" y="615.79" width="3.1" height="3.1" fill="#d6d6d6" />
<rect x="1621.85" y="611.6" width="3.1" height="3.1" fill="#d6d6d6" />
<rect x="1621.85" y="607.41" width="3.1" height="3.1" fill="#d6d6d6" />
<rect x="1621.85" y="603.22" width="3.1" height="3.1" fill="#d6d6d6" />
<rect x="1621.85" y="599.03" width="3.1" height="3.1" fill="#d6d6d6" />
<rect x="1621.85" y="594.84" width="3.1" height="3.1" fill="#d6d6d6" />
<rect x="1626.25" y="632.55" width="3.1" height="3.1" fill="#d6d6d6" />
<rect x="1626.25" y="628.36" width="3.1" height="3.1" fill="#d6d6d6" />
<rect x="1626.25" y="624.17" width="3.1" height="3.1" fill="#d6d6d6" />
<rect x="1626.25" y="619.98" width="3.1" height="3.1" fill="#d6d6d6" />
<rect x="1626.25" y="615.79" width="3.1" height="3.1" fill="#d6d6d6" />
<rect x="1626.25" y="611.6" width="3.1" height="3.1" fill="#d6d6d6" />
<rect x="1626.25" y="607.41" width="3.1" height="3.1" fill="#d6d6d6" />
<rect x="1626.25" y="603.22" width="3.1" height="3.1" fill="#d6d6d6" />
<rect x="1626.25" y="599.03" width="3.1" height="3.1" fill="#d6d6d6" />
<rect x="1626.25" y="594.84" width="3.1" height="3.1" fill="#d6d6d6" />
<rect x="1626.25" y="590.65" width="3.1" height="3.1" fill="#d6d6d6" />
<rect x="1626.25" y="586.46" width="3.1" height="3.1" fill="#d6d6d6" />
<rect x="1630.65" y="632.55" width="3.1" height="3.1" fill="#d6d6d6" />
<rect x="1630.65" y="628.36" width="3.1" height="3.1" fill="#d6d6d6" />
<rect x="1630.65" y="624.17" width="3.1" height="3.1" fill="#d6d6d6" />
<rect x="1630.65" y="619.98" width="3.1" height="3.1" fill="#d6d6d6" />
<rect x="1630.65" y="615.79" width="3.1" height="3.1" fill="#d6d6d6" />
<rect x="1630.65" y="611.6" width="3.1" height="3.1" fill="#d6d6d6" />
<rect x="1630.65" y="607.41" width="3.1" height="3.1" fill="#d6d6d6" />
<rect x="1630.65" y="603.22" width="3.1" height="3.1" fill="#d6d6d6" />
<rect x="1630.65" y="599.03" width="3.1" height="3.1" fill="#d6d6d6" />
<rect x="1630.65" y="594.84" width="3.1" height="3.1" fill="#d6d6d6" />
<rect x="1635.05" y="632.55" width="3.1" height="3.1" fill="#d6d6d6" />
<rect x="1635.05" y="628.36" width="3.1" height="3.1" fill="#d6d6d6" />
<rect x="1635.05" y="624.17" width="3.1" height="3.1" fill="#d6d6d6" />
<rect x="1635.05" y="619.98" width="3.1" height="3.1" fill="#d6d6d6" />
<rect x="1635.05" y="615.79" width="3.1" height="3.1" fill="#d6d6d6" />
<rect x="1635.05" y="611.6" width="3.1" height="3.1" fill="#d6d6d6" />
<rect x="1635.05" y="607.41" width="3.1" height="3.1" fill="#d6d6d6" />
<rect x="1635.05" y="603.22" width="3.1" height="3.1" fill="#d6d6d6" />
<rect x="1635.05" y="599.03" width="3.1" height="3.1" fill="#d6d6d6" />
<rect x="1635.05" y="594.84" width="3.1" height="3.1" fill="#d6d6d6" />
<rect x="1635.05" y="590.65" width="3.1" height="3.1" fill="#d6d6d6" />
<rect x="1635.05" y="586.46" width="3.1" height="3.1" fill="#d6d6d6" />
<rect x="1639.45" y="632.55" width="3.1" height="3.1" fill="#d6d6d6" />
<rect x="1639.45" y="628.36" width="3.1" height="3.1" fill="#d6d6d6" />
<rect x="1639.45" y="624.17" width="3.1" height="3.1" fill="#d6d6d6" />
<rect x="1639.45" y="619.98" width="3.1" height="3.1" fill="#d6d6d6" />
<rect x="1639.45" y="615.79" width="3.1" height="3.1" fill="#d6d6d6" />
<rect x="1639.45" y="611.6" width="3.1" height="3.1" fill="#d6d6d6" />
<rect x="1639.45" y="607.41" width="3.1" height="3.1" fill="#d6d6d6" />
<rect x="1639.45" y="603.22" width="3.1" height="3.1" fill="#d6d6d6" />
<rect x="1639.45" y="599.03" width="3.1" height="3.1" fill="#d6d6d6" />
<rect x="1639.45" y="594.84" width="3.1" height="3.1" fill="#d6d6d6" />
<rect x="1639.45" y="590.65" width="3.1" height="3.1" fill="#d6d6d6" />
<rect x="1639.45" y="586.46" width="3.1" height="3.1" fill="#d6d6d6" />
<rect x="1639.45" y="582.27" width="3.1" height="3.1" fill="#d6d6d6" />
<rect x="1639.45" y="578.08" width="3.1" height="3.1" fill="#d6d6d6" />
<rect x="1643.85" y="632.55" width="3.1" height="3.1" fill="#d6d6d6" />
<rect x="1643.85" y="628.36" width="3.1" height="3.1" fill="#d6d6d6" />
<rect x="1643.85" y="624.17" width="3.1" height="3.1" fill="#d6d6d6" />
<rect x="1643.85" y="619.98" width="3.1" height="3.1" fill="#d6d6d6" />
<rect x="1643.85" y="615.79" width="3.1" height="3.1" fill="#d6d6d6" />
<rect x="1643.85" y="611.6" width="3.1" height="3.1" fill="#d6d6d6" />
<rect x="1643.85" y="607.41" width="3.1" height="3.1" fill="#d6d6d6" />
<rect x="1643.85" y="603.22" width="3.1" height="3.1" fill="#d6d6d6" />
<rect x="1643.85" y="599.03" width="3.1" height="3.1" fill="#d6d6d6" />
<rect x="1643.85" y="594.84" width="3.1" height="3.1" fill="#d6d6d6" />
<rect x="1643.85" y="590.65" width="3.1" height="3.1" fill="#d6d6d6" />
<rect x="1643.85" y="586.46" width="3.1" height="3.1" fill="#d6d6d6" />
<rect x="1648.25" y="632.55" width="3.1" height="3.1" fill="#d6d6d6" />
<rect x="1648.25" y="628.36" width="3.1" height="3.1" fill="#d6d6d6" />
<rect x="1648.25" y="624.17" width="3.1" height="3.1" fill="#d6d6d6" />
<rect x="1648.25" y="619.98" width="3.1" height="3.1" fill="#d6d6d6" />
<rect x="1648.25" y="615.79" width="3.1" height="3.1" fill="#d6d6d6" />
<rect x="1648.25" y="611.6" width="3.1" height="3.1" fill="#d6d6d6" />
<rect x="1648.25" y="607.41" width="3.1" height="3.1" fill="#d6d6d6" />
<rect x="1648.25" y="603.22" width="3.1" height="3.1" fill="#d6d6d6" />
<rect x="1648.25" y="599.03" width="3.1" height="3.1" fill="#d6d6d6" />
<rect x="1648.25" y="594.84" width="3.1" height="3.1" fill="#d6d6d6" />
<rect x="1648.25" y="590.65" width="3.1" height="3.1" fill="#d6d6d6" />
<rect x="1648.25" y="586.46" width="3.1" height="3.1" fill="#d6d6d6" />
<rect x="1648.25" y="582.27" width="3.1" height="3.1" fill="#d6d6d6" />
<rect x="1535.1" y="693.9" width="17.9" height="5.3" fill="#1e1e1e" />
<rect x="1535.1" y="700.9" width="17.9" height="5.3" fill="#d6d6d6" />
<rect x="1535.1" y="707.4" width="17.9" height="5.3" fill="#d6d6d6" />
<rect x="1535.1" y="713.9" width="17.9" height="5.3" fill="#d6d6d6" />
<rect x="1555" y="700.9" width="17.9" height="5.3" fill="#1e1e1e" />
<rect x="1555" y="707.4" width="17.9" height="5.3" fill="#d6d6d6" />
<rect x="1555" y="713.9" width="17.9" height="5.3" fill="#d6d6d6" />
<rect x="1574.6" y="707.4" width="17.7" height="5.3" fill="#1e1e1e" />
<rect x="1574.6" y="713.9" width="17.7" height="5.3" fill="#d6d6d6" />
<rect x="1594.1" y="700.9" width="17.9" height="5.3" fill="#1e1e1e" />
<rect x="1594.1" y="707.4" width="17.9" height="5.3" fill="#d6d6d6" />
<rect x="1594.1" y="713.9" width="17.9" height="5.3" fill="#d6d6d6" />
<rect x="1613.9" y="693.9" width="17.7" height="5.3" fill="#1e1e1e" />
<rect x="1613.9" y="700.9" width="17.7" height="5.3" fill="#d6d6d6" />
<rect x="1613.9" y="707.4" width="17.7" height="5.3" fill="#d6d6d6" />
<rect x="1613.9" y="713.9" width="17.7" height="5.3" fill="#d6d6d6" />
<rect x="1633.3" y="707.4" width="17.7" height="5.3" fill="#1e1e1e" />
<rect x="1633.3" y="713.9" width="17.7" height="5.3" fill="#d6d6d6" />
<line x1="1516.3" y1="600" x2="1516.3" y2="818.1" stroke="#444" stroke-width="1.1" />
<circle cx="1516.3" cy="614.2" r="3.6" fill="#1e1e1e" />
<circle cx="1516.3" cy="670.9" r="4.2" fill="#ececec" stroke="#1e1e1e" stroke-width="1.3" />
<path d="M1512.3,706.3 L1520.3,706.3 L1516.3,712.2Z" fill="#1e1e1e" />
<path d="M1512,731.1 L1520.4,731.1 L1516.2,736.6Z" fill="#1e1e1e" />
<path d="M1512,737 L1520.4,737 L1516.2,742.8Z" fill="#1e1e1e" />
<path d="M1512,802 L1520.4,802 L1516.2,807.9Z" fill="#1e1e1e" />
<circle cx="1612.2" cy="768.8" r="37.5" fill="none" stroke="#1e1e1e" stroke-width="2" />
<path d="M1624.66,769.83 L1639.82,772.18 L1640.01,769.78 L1624.67,769.73Z" fill="#1e1e1e" />
<path d="M1624.34,771.77 L1638.95,776.46 L1639.51,774.12 L1624.37,771.67Z" fill="#1e1e1e" />
<path d="M1623.73,773.63 L1637.42,780.55 L1638.34,778.33 L1623.77,773.54Z" fill="#1e1e1e" />
<path d="M1622.83,775.37 L1635.28,784.35 L1636.53,782.3 L1622.88,775.29Z" fill="#1e1e1e" />
<path d="M1621.67,776.96 L1632.56,787.77 L1634.12,785.94 L1621.74,776.88Z" fill="#1e1e1e" />
<path d="M1620.28,778.34 L1629.34,790.72 L1631.17,789.16 L1620.36,778.27Z" fill="#1e1e1e" />
<path d="M1618.69,779.48 L1625.7,793.13 L1627.75,791.88 L1618.77,779.43Z" fill="#1e1e1e" />
<path d="M1616.94,780.37 L1621.73,794.94 L1623.95,794.02 L1617.03,780.33Z" fill="#1e1e1e" />
<path d="M1615.07,780.97 L1617.52,796.11 L1619.86,795.55 L1615.17,780.94Z" fill="#1e1e1e" />
<path d="M1613.13,781.27 L1613.18,796.61 L1615.58,796.42 L1613.23,781.26Z" fill="#1e1e1e" />
<path d="M1611.17,781.26 L1608.82,796.42 L1611.22,796.61 L1611.27,781.27Z" fill="#1e1e1e" />
<path d="M1609.23,780.94 L1604.54,795.55 L1606.88,796.11 L1609.33,780.97Z" fill="#1e1e1e" />
<path d="M1607.37,780.33 L1600.45,794.02 L1602.67,794.94 L1607.46,780.37Z" fill="#1e1e1e" />
<path d="M1605.63,779.43 L1596.65,791.88 L1598.7,793.13 L1605.71,779.48Z" fill="#1e1e1e" />
<path d="M1604.04,778.27 L1593.23,789.16 L1595.06,790.72 L1604.12,778.34Z" fill="#1e1e1e" />
<path d="M1602.66,776.88 L1590.28,785.94 L1591.84,787.77 L1602.73,776.96Z" fill="#1e1e1e" />
<path d="M1601.52,775.29 L1587.87,782.3 L1589.12,784.35 L1601.57,775.37Z" fill="#1e1e1e" />
<path d="M1600.63,773.54 L1586.06,778.33 L1586.98,780.55 L1600.67,773.63Z" fill="#1e1e1e" />
<path d="M1600.03,771.67 L1584.89,774.12 L1585.45,776.46 L1600.06,771.77Z" fill="#1e1e1e" />
<path d="M1599.73,769.73 L1584.39,769.78 L1584.58,772.18 L1599.74,769.83Z" fill="#1e1e1e" />
<path d="M1599.74,767.77 L1584.58,765.42 L1584.39,767.82 L1599.73,767.87Z" fill="#1e1e1e" />
<path d="M1600.06,765.83 L1585.45,761.14 L1584.89,763.48 L1600.03,765.93Z" fill="#1e1e1e" />
<path d="M1600.67,763.97 L1586.98,757.05 L1586.06,759.27 L1600.63,764.06Z" fill="#1e1e1e" />
<path d="M1601.57,762.23 L1589.12,753.25 L1587.87,755.3 L1601.52,762.31Z" fill="#1e1e1e" />
<path d="M1602.73,760.64 L1591.84,749.83 L1590.28,751.66 L1602.66,760.72Z" fill="#1e1e1e" />
<path d="M1604.12,759.26 L1595.06,746.88 L1593.23,748.44 L1604.04,759.33Z" fill="#1e1e1e" />
<path d="M1605.71,758.12 L1598.7,744.47 L1596.65,745.72 L1605.63,758.17Z" fill="#1e1e1e" />
<path d="M1607.46,757.23 L1602.67,742.66 L1600.45,743.58 L1607.37,757.27Z" fill="#1e1e1e" />
<path d="M1609.33,756.63 L1606.88,741.49 L1604.54,742.05 L1609.23,756.66Z" fill="#1e1e1e" />
<path d="M1611.27,756.33 L1611.22,740.99 L1608.82,741.18 L1611.17,756.34Z" fill="#1e1e1e" />
<path d="M1613.23,756.34 L1615.58,741.18 L1613.18,740.99 L1613.13,756.33Z" fill="#1e1e1e" />
<path d="M1615.17,756.66 L1619.86,742.05 L1617.52,741.49 L1615.07,756.63Z" fill="#1e1e1e" />
<path d="M1617.03,757.27 L1623.95,743.58 L1621.73,742.66 L1616.94,757.23Z" fill="#1e1e1e" />
<path d="M1618.77,758.17 L1627.75,745.72 L1625.7,744.47 L1618.69,758.12Z" fill="#1e1e1e" />
<path d="M1620.36,759.33 L1631.17,748.44 L1629.34,746.88 L1620.28,759.26Z" fill="#1e1e1e" />
<path d="M1621.74,760.72 L1634.12,751.66 L1632.56,749.83 L1621.67,760.64Z" fill="#1e1e1e" />
<path d="M1622.88,762.31 L1636.53,755.3 L1635.28,753.25 L1622.83,762.23Z" fill="#1e1e1e" />
<path d="M1623.77,764.06 L1638.34,759.27 L1637.42,757.05 L1623.73,763.97Z" fill="#1e1e1e" />
<path d="M1624.37,765.93 L1639.51,763.48 L1638.95,761.14 L1624.34,765.83Z" fill="#1e1e1e" />
<path d="M1624.67,767.87 L1640.01,767.82 L1639.82,765.42 L1624.66,767.77Z" fill="#1e1e1e" />
<circle cx="1612.2" cy="875" r="40.4" fill="none" stroke="#8c8c8c" stroke-width="1" />
<circle cx="1612.2" cy="875" r="37.4" fill="none" stroke="#1e1e1e" stroke-width="1.9" />
<circle cx="1612.2" cy="875" r="20.5" fill="none" stroke="#2a2a2a" stroke-width="1.4" />
<path d="M1618.2,875.05 L1627.7,875.62 L1627.7,874.38 L1618.2,874.95Z" fill="#303030" />
<path d="M1618.14,875.83 L1627.49,877.64 L1627.65,876.41 L1618.16,875.73Z" fill="#303030" />
<path d="M1617.98,876.6 L1627.01,879.61 L1627.33,878.41 L1618.01,876.5Z" fill="#303030" />
<path d="M1617.72,877.34 L1626.28,881.5 L1626.76,880.36 L1617.76,877.25Z" fill="#303030" />
<path d="M1617.37,878.04 L1625.31,883.29 L1625.93,882.21 L1617.42,877.96Z" fill="#303030" />
<path d="M1616.93,878.69 L1624.12,884.93 L1624.87,883.94 L1616.99,878.61Z" fill="#303030" />
<path d="M1616.41,879.28 L1622.72,886.4 L1623.6,885.52 L1616.48,879.21Z" fill="#303030" />
<path d="M1615.81,879.79 L1621.14,887.67 L1622.13,886.92 L1615.89,879.73Z" fill="#303030" />
<path d="M1615.16,880.22 L1619.41,888.73 L1620.49,888.11 L1615.24,880.17Z" fill="#303030" />
<path d="M1614.45,880.56 L1617.56,889.56 L1618.7,889.08 L1614.54,880.52Z" fill="#303030" />
<path d="M1613.7,880.81 L1615.61,890.13 L1616.81,889.81 L1613.8,880.78Z" fill="#303030" />
<path d="M1612.93,880.96 L1613.61,890.45 L1614.84,890.29 L1613.03,880.94Z" fill="#303030" />
<path d="M1612.15,881 L1611.58,890.5 L1612.82,890.5 L1612.25,881Z" fill="#303030" />
<path d="M1611.37,880.94 L1609.56,890.29 L1610.79,890.45 L1611.47,880.96Z" fill="#303030" />
<path d="M1610.6,880.78 L1607.59,889.81 L1608.79,890.13 L1610.7,880.81Z" fill="#303030" />
<path d="M1609.86,880.52 L1605.7,889.08 L1606.84,889.56 L1609.95,880.56Z" fill="#303030" />
<path d="M1609.16,880.17 L1603.91,888.11 L1604.99,888.73 L1609.24,880.22Z" fill="#303030" />
<path d="M1608.51,879.73 L1602.27,886.92 L1603.26,887.67 L1608.59,879.79Z" fill="#303030" />
<path d="M1607.92,879.21 L1600.8,885.52 L1601.68,886.4 L1607.99,879.28Z" fill="#303030" />
<path d="M1607.41,878.61 L1599.53,883.94 L1600.28,884.93 L1607.47,878.69Z" fill="#303030" />
<path d="M1606.98,877.96 L1598.47,882.21 L1599.09,883.29 L1607.03,878.04Z" fill="#303030" />
<path d="M1606.64,877.25 L1597.64,880.36 L1598.12,881.5 L1606.68,877.34Z" fill="#303030" />
<path d="M1606.39,876.5 L1597.07,878.41 L1597.39,879.61 L1606.42,876.6Z" fill="#303030" />
<path d="M1606.24,875.73 L1596.75,876.41 L1596.91,877.64 L1606.26,875.83Z" fill="#303030" />
<path d="M1606.2,874.95 L1596.7,874.38 L1596.7,875.62 L1606.2,875.05Z" fill="#303030" />
<path d="M1606.26,874.17 L1596.91,872.36 L1596.75,873.59 L1606.24,874.27Z" fill="#303030" />
<path d="M1606.42,873.4 L1597.39,870.39 L1597.07,871.59 L1606.39,873.5Z" fill="#303030" />
<path d="M1606.68,872.66 L1598.12,868.5 L1597.64,869.64 L1606.64,872.75Z" fill="#303030" />
<path d="M1607.03,871.96 L1599.09,866.71 L1598.47,867.79 L1606.98,872.04Z" fill="#303030" />
<path d="M1607.47,871.31 L1600.28,865.07 L1599.53,866.06 L1607.41,871.39Z" fill="#303030" />
<path d="M1607.99,870.72 L1601.68,863.6 L1600.8,864.48 L1607.92,870.79Z" fill="#303030" />
<path d="M1608.59,870.21 L1603.26,862.33 L1602.27,863.08 L1608.51,870.27Z" fill="#303030" />
<path d="M1609.24,869.78 L1604.99,861.27 L1603.91,861.89 L1609.16,869.83Z" fill="#303030" />
<path d="M1609.95,869.44 L1606.84,860.44 L1605.7,860.92 L1609.86,869.48Z" fill="#303030" />
<path d="M1610.7,869.19 L1608.79,859.87 L1607.59,860.19 L1610.6,869.22Z" fill="#303030" />
<path d="M1611.47,869.04 L1610.79,859.55 L1609.56,859.71 L1611.37,869.06Z" fill="#303030" />
<path d="M1612.25,869 L1612.82,859.5 L1611.58,859.5 L1612.15,869Z" fill="#303030" />
<path d="M1613.03,869.06 L1614.84,859.71 L1613.61,859.55 L1612.93,869.04Z" fill="#303030" />
<path d="M1613.8,869.22 L1616.81,860.19 L1615.61,859.87 L1613.7,869.19Z" fill="#303030" />
<path d="M1614.54,869.48 L1618.7,860.92 L1617.56,860.44 L1614.45,869.44Z" fill="#303030" />
<path d="M1615.24,869.83 L1620.49,861.89 L1619.41,861.27 L1615.16,869.78Z" fill="#303030" />
<path d="M1615.89,870.27 L1622.13,863.08 L1621.14,862.33 L1615.81,870.21Z" fill="#303030" />
<path d="M1616.48,870.79 L1623.6,864.48 L1622.72,863.6 L1616.41,870.72Z" fill="#303030" />
<path d="M1616.99,871.39 L1624.87,866.06 L1624.12,865.07 L1616.93,871.31Z" fill="#303030" />
<path d="M1617.42,872.04 L1625.93,867.79 L1625.31,866.71 L1617.37,871.96Z" fill="#303030" />
<path d="M1617.76,872.75 L1626.76,869.64 L1626.28,868.5 L1617.72,872.66Z" fill="#303030" />
<path d="M1618.01,873.5 L1627.33,871.59 L1627.01,870.39 L1617.98,873.4Z" fill="#303030" />
<path d="M1618.16,874.27 L1627.65,873.59 L1627.49,872.36 L1618.14,874.17Z" fill="#303030" />
<line x1="1506.3" y1="825.3" x2="1525.9" y2="844.9" stroke="#333" stroke-width="1" />
<line x1="1506.3" y1="844.9" x2="1525.9" y2="825.3" stroke="#333" stroke-width="1" />
<circle cx="1516.1" cy="835.1" r="1.4" fill="#1e1e1e" />
<line x1="1506.3" y1="851.8" x2="1525.9" y2="871.4" stroke="#333" stroke-width="1" />
<line x1="1506.3" y1="871.4" x2="1525.9" y2="851.8" stroke="#333" stroke-width="1" />
<circle cx="1516.1" cy="861.6" r="1.4" fill="#1e1e1e" />
<line x1="1506.3" y1="878.2" x2="1525.9" y2="897.8" stroke="#333" stroke-width="1" />
<line x1="1506.3" y1="897.8" x2="1525.9" y2="878.2" stroke="#333" stroke-width="1" />
<circle cx="1516.1" cy="888" r="1.4" fill="#1e1e1e" />
<rect x="1539.1" y="823.1" width="2.8" height="71.9" fill="#1e1e1e" />
<path d="M1559.2,822.6 L1566.6,832.8 L1551.8,832.8Z" fill="#1e1e1e" />
<path d="M1559.2,833.9 L1566.6,844.1 L1551.8,844.1Z" fill="#1e1e1e" />
<path d="M1559.2,845.5 L1566.6,855.7 L1551.8,855.7Z" fill="#1e1e1e" />
<rect x="1507.1" y="916.1" width="9.7" height="25.7" fill="#1e1e1e" />
<rect x="1520.2" y="916.7" width="8.9" height="24.5" fill="none" stroke="#333" stroke-width="1.2" />
<rect x="1533.1" y="916.7" width="8.9" height="24.5" fill="none" stroke="#333" stroke-width="1.2" />
<rect x="1546.1" y="916.7" width="8.8" height="24.5" fill="none" stroke="#333" stroke-width="1.2" />
<circle cx="1568.8" cy="935.3" r="4.7" fill="none" stroke="#1e1e1e" stroke-width="1.4" />
<circle cx="1582.7" cy="935.3" r="4.7" fill="none" stroke="#1e1e1e" stroke-width="1.4" />
<circle cx="1596.3" cy="935.3" r="4.7" fill="none" stroke="#1e1e1e" stroke-width="1.4" />
<circle cx="1610" cy="935.3" r="4.7" fill="none" stroke="#1e1e1e" stroke-width="1.4" />
<circle cx="1624" cy="935.3" r="4.7" fill="none" stroke="#1e1e1e" stroke-width="1.4" />
<circle cx="1648.5" cy="935.3" r="4.7" fill="none" stroke="#1e1e1e" stroke-width="1.4" />
</svg>
</body></html>
